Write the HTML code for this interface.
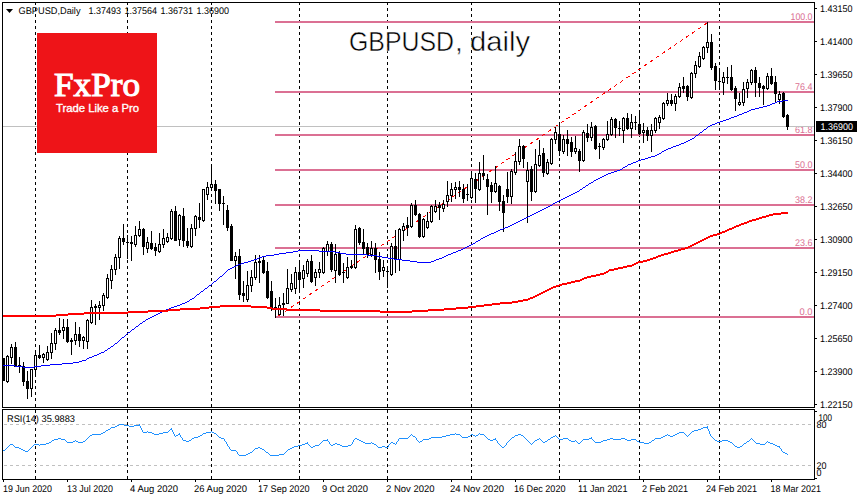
<!DOCTYPE html>
<html><head><meta charset="utf-8">
<style>
html,body{margin:0;padding:0;background:#fff;}
body{width:860px;height:500px;overflow:hidden;}
svg{display:block;}
text{font-family:"Liberation Sans",sans-serif;}
.ax{font-size:9.7px;fill:#000;stroke:none;text-rendering:geometricPrecision;}
.fl{font-size:9.7px;fill:#db7093;stroke:none;text-rendering:geometricPrecision;}
.fx{font-family:"Liberation Serif",serif;font-weight:normal;font-size:33px;fill:#fff;stroke:#fff;stroke-width:1.1px;}
.tl{font-size:11px;fill:#fff;stroke:#fff;stroke-width:0.35px;}
.tt{font-size:28px;fill:#000;stroke:#fff;stroke-width:0.5px;paint-order:normal;}
</style></head>
<body>
<svg width="860" height="500" viewBox="0 0 860 500" shape-rendering="crispEdges">
<path d="M35 3h1v2h-1zM35 8h1v3h-1zM35 14h1v3h-1zM35 20h1v3h-1zM35 26h1v3h-1zM35 32h1v3h-1zM35 38h1v3h-1zM35 44h1v3h-1zM35 50h1v3h-1zM35 56h1v3h-1zM35 62h1v3h-1zM35 68h1v3h-1zM35 74h1v3h-1zM35 80h1v3h-1zM35 86h1v3h-1zM35 92h1v3h-1zM35 98h1v3h-1zM35 104h1v3h-1zM35 110h1v3h-1zM35 116h1v3h-1zM35 122h1v3h-1zM35 128h1v3h-1zM35 134h1v3h-1zM35 140h1v3h-1zM35 146h1v3h-1zM35 152h1v3h-1zM35 158h1v3h-1zM35 164h1v3h-1zM35 170h1v3h-1zM35 176h1v3h-1zM35 182h1v3h-1zM35 188h1v3h-1zM35 194h1v3h-1zM35 200h1v3h-1zM35 206h1v3h-1zM35 212h1v3h-1zM35 218h1v3h-1zM35 224h1v3h-1zM35 230h1v3h-1zM35 236h1v3h-1zM35 242h1v3h-1zM35 248h1v3h-1zM35 254h1v3h-1zM35 260h1v3h-1zM35 266h1v3h-1zM35 272h1v3h-1zM35 278h1v3h-1zM35 284h1v3h-1zM35 290h1v3h-1zM35 296h1v3h-1zM35 302h1v3h-1zM35 308h1v3h-1zM35 314h1v3h-1zM35 320h1v3h-1zM35 326h1v3h-1zM35 332h1v3h-1zM35 338h1v3h-1zM35 344h1v3h-1zM35 350h1v3h-1zM35 356h1v3h-1zM35 362h1v3h-1zM35 368h1v3h-1zM35 374h1v3h-1zM35 380h1v3h-1zM35 386h1v3h-1zM35 392h1v3h-1zM35 398h1v3h-1zM35 404h1v3h-1zM35 410h1v3h-1zM35 416h1v3h-1zM35 422h1v3h-1zM35 428h1v3h-1zM35 434h1v3h-1zM35 440h1v3h-1zM35 446h1v3h-1zM35 452h1v3h-1zM35 458h1v3h-1zM35 464h1v3h-1zM35 470h1v3h-1zM35 476h1v3h-1zM127 3h1v2h-1zM127 8h1v3h-1zM127 14h1v3h-1zM127 20h1v3h-1zM127 26h1v3h-1zM127 32h1v3h-1zM127 38h1v3h-1zM127 44h1v3h-1zM127 50h1v3h-1zM127 56h1v3h-1zM127 62h1v3h-1zM127 68h1v3h-1zM127 74h1v3h-1zM127 80h1v3h-1zM127 86h1v3h-1zM127 92h1v3h-1zM127 98h1v3h-1zM127 104h1v3h-1zM127 110h1v3h-1zM127 116h1v3h-1zM127 122h1v3h-1zM127 128h1v3h-1zM127 134h1v3h-1zM127 140h1v3h-1zM127 146h1v3h-1zM127 152h1v3h-1zM127 158h1v3h-1zM127 164h1v3h-1zM127 170h1v3h-1zM127 176h1v3h-1zM127 182h1v3h-1zM127 188h1v3h-1zM127 194h1v3h-1zM127 200h1v3h-1zM127 206h1v3h-1zM127 212h1v3h-1zM127 218h1v3h-1zM127 224h1v3h-1zM127 230h1v3h-1zM127 236h1v3h-1zM127 242h1v3h-1zM127 248h1v3h-1zM127 254h1v3h-1zM127 260h1v3h-1zM127 266h1v3h-1zM127 272h1v3h-1zM127 278h1v3h-1zM127 284h1v3h-1zM127 290h1v3h-1zM127 296h1v3h-1zM127 302h1v3h-1zM127 308h1v3h-1zM127 314h1v3h-1zM127 320h1v3h-1zM127 326h1v3h-1zM127 332h1v3h-1zM127 338h1v3h-1zM127 344h1v3h-1zM127 350h1v3h-1zM127 356h1v3h-1zM127 362h1v3h-1zM127 368h1v3h-1zM127 374h1v3h-1zM127 380h1v3h-1zM127 386h1v3h-1zM127 392h1v3h-1zM127 398h1v3h-1zM127 404h1v3h-1zM127 410h1v3h-1zM127 416h1v3h-1zM127 422h1v3h-1zM127 428h1v3h-1zM127 434h1v3h-1zM127 440h1v3h-1zM127 446h1v3h-1zM127 452h1v3h-1zM127 458h1v3h-1zM127 464h1v3h-1zM127 470h1v3h-1zM127 476h1v3h-1zM211 3h1v2h-1zM211 8h1v3h-1zM211 14h1v3h-1zM211 20h1v3h-1zM211 26h1v3h-1zM211 32h1v3h-1zM211 38h1v3h-1zM211 44h1v3h-1zM211 50h1v3h-1zM211 56h1v3h-1zM211 62h1v3h-1zM211 68h1v3h-1zM211 74h1v3h-1zM211 80h1v3h-1zM211 86h1v3h-1zM211 92h1v3h-1zM211 98h1v3h-1zM211 104h1v3h-1zM211 110h1v3h-1zM211 116h1v3h-1zM211 122h1v3h-1zM211 128h1v3h-1zM211 134h1v3h-1zM211 140h1v3h-1zM211 146h1v3h-1zM211 152h1v3h-1zM211 158h1v3h-1zM211 164h1v3h-1zM211 170h1v3h-1zM211 176h1v3h-1zM211 182h1v3h-1zM211 188h1v3h-1zM211 194h1v3h-1zM211 200h1v3h-1zM211 206h1v3h-1zM211 212h1v3h-1zM211 218h1v3h-1zM211 224h1v3h-1zM211 230h1v3h-1zM211 236h1v3h-1zM211 242h1v3h-1zM211 248h1v3h-1zM211 254h1v3h-1zM211 260h1v3h-1zM211 266h1v3h-1zM211 272h1v3h-1zM211 278h1v3h-1zM211 284h1v3h-1zM211 290h1v3h-1zM211 296h1v3h-1zM211 302h1v3h-1zM211 308h1v3h-1zM211 314h1v3h-1zM211 320h1v3h-1zM211 326h1v3h-1zM211 332h1v3h-1zM211 338h1v3h-1zM211 344h1v3h-1zM211 350h1v3h-1zM211 356h1v3h-1zM211 362h1v3h-1zM211 368h1v3h-1zM211 374h1v3h-1zM211 380h1v3h-1zM211 386h1v3h-1zM211 392h1v3h-1zM211 398h1v3h-1zM211 404h1v3h-1zM211 410h1v3h-1zM211 416h1v3h-1zM211 422h1v3h-1zM211 428h1v3h-1zM211 434h1v3h-1zM211 440h1v3h-1zM211 446h1v3h-1zM211 452h1v3h-1zM211 458h1v3h-1zM211 464h1v3h-1zM211 470h1v3h-1zM211 476h1v3h-1zM299 3h1v2h-1zM299 8h1v3h-1zM299 14h1v3h-1zM299 20h1v3h-1zM299 26h1v3h-1zM299 32h1v3h-1zM299 38h1v3h-1zM299 44h1v3h-1zM299 50h1v3h-1zM299 56h1v3h-1zM299 62h1v3h-1zM299 68h1v3h-1zM299 74h1v3h-1zM299 80h1v3h-1zM299 86h1v3h-1zM299 92h1v3h-1zM299 98h1v3h-1zM299 104h1v3h-1zM299 110h1v3h-1zM299 116h1v3h-1zM299 122h1v3h-1zM299 128h1v3h-1zM299 134h1v3h-1zM299 140h1v3h-1zM299 146h1v3h-1zM299 152h1v3h-1zM299 158h1v3h-1zM299 164h1v3h-1zM299 170h1v3h-1zM299 176h1v3h-1zM299 182h1v3h-1zM299 188h1v3h-1zM299 194h1v3h-1zM299 200h1v3h-1zM299 206h1v3h-1zM299 212h1v3h-1zM299 218h1v3h-1zM299 224h1v3h-1zM299 230h1v3h-1zM299 236h1v3h-1zM299 242h1v3h-1zM299 248h1v3h-1zM299 254h1v3h-1zM299 260h1v3h-1zM299 266h1v3h-1zM299 272h1v3h-1zM299 278h1v3h-1zM299 284h1v3h-1zM299 290h1v3h-1zM299 296h1v3h-1zM299 302h1v3h-1zM299 308h1v3h-1zM299 314h1v3h-1zM299 320h1v3h-1zM299 326h1v3h-1zM299 332h1v3h-1zM299 338h1v3h-1zM299 344h1v3h-1zM299 350h1v3h-1zM299 356h1v3h-1zM299 362h1v3h-1zM299 368h1v3h-1zM299 374h1v3h-1zM299 380h1v3h-1zM299 386h1v3h-1zM299 392h1v3h-1zM299 398h1v3h-1zM299 404h1v3h-1zM299 410h1v3h-1zM299 416h1v3h-1zM299 422h1v3h-1zM299 428h1v3h-1zM299 434h1v3h-1zM299 440h1v3h-1zM299 446h1v3h-1zM299 452h1v3h-1zM299 458h1v3h-1zM299 464h1v3h-1zM299 470h1v3h-1zM299 476h1v3h-1zM387 3h1v2h-1zM387 8h1v3h-1zM387 14h1v3h-1zM387 20h1v3h-1zM387 26h1v3h-1zM387 32h1v3h-1zM387 38h1v3h-1zM387 44h1v3h-1zM387 50h1v3h-1zM387 56h1v3h-1zM387 62h1v3h-1zM387 68h1v3h-1zM387 74h1v3h-1zM387 80h1v3h-1zM387 86h1v3h-1zM387 92h1v3h-1zM387 98h1v3h-1zM387 104h1v3h-1zM387 110h1v3h-1zM387 116h1v3h-1zM387 122h1v3h-1zM387 128h1v3h-1zM387 134h1v3h-1zM387 140h1v3h-1zM387 146h1v3h-1zM387 152h1v3h-1zM387 158h1v3h-1zM387 164h1v3h-1zM387 170h1v3h-1zM387 176h1v3h-1zM387 182h1v3h-1zM387 188h1v3h-1zM387 194h1v3h-1zM387 200h1v3h-1zM387 206h1v3h-1zM387 212h1v3h-1zM387 218h1v3h-1zM387 224h1v3h-1zM387 230h1v3h-1zM387 236h1v3h-1zM387 242h1v3h-1zM387 248h1v3h-1zM387 254h1v3h-1zM387 260h1v3h-1zM387 266h1v3h-1zM387 272h1v3h-1zM387 278h1v3h-1zM387 284h1v3h-1zM387 290h1v3h-1zM387 296h1v3h-1zM387 302h1v3h-1zM387 308h1v3h-1zM387 314h1v3h-1zM387 320h1v3h-1zM387 326h1v3h-1zM387 332h1v3h-1zM387 338h1v3h-1zM387 344h1v3h-1zM387 350h1v3h-1zM387 356h1v3h-1zM387 362h1v3h-1zM387 368h1v3h-1zM387 374h1v3h-1zM387 380h1v3h-1zM387 386h1v3h-1zM387 392h1v3h-1zM387 398h1v3h-1zM387 404h1v3h-1zM387 410h1v3h-1zM387 416h1v3h-1zM387 422h1v3h-1zM387 428h1v3h-1zM387 434h1v3h-1zM387 440h1v3h-1zM387 446h1v3h-1zM387 452h1v3h-1zM387 458h1v3h-1zM387 464h1v3h-1zM387 470h1v3h-1zM387 476h1v3h-1zM471 3h1v2h-1zM471 8h1v3h-1zM471 14h1v3h-1zM471 20h1v3h-1zM471 26h1v3h-1zM471 32h1v3h-1zM471 38h1v3h-1zM471 44h1v3h-1zM471 50h1v3h-1zM471 56h1v3h-1zM471 62h1v3h-1zM471 68h1v3h-1zM471 74h1v3h-1zM471 80h1v3h-1zM471 86h1v3h-1zM471 92h1v3h-1zM471 98h1v3h-1zM471 104h1v3h-1zM471 110h1v3h-1zM471 116h1v3h-1zM471 122h1v3h-1zM471 128h1v3h-1zM471 134h1v3h-1zM471 140h1v3h-1zM471 146h1v3h-1zM471 152h1v3h-1zM471 158h1v3h-1zM471 164h1v3h-1zM471 170h1v3h-1zM471 176h1v3h-1zM471 182h1v3h-1zM471 188h1v3h-1zM471 194h1v3h-1zM471 200h1v3h-1zM471 206h1v3h-1zM471 212h1v3h-1zM471 218h1v3h-1zM471 224h1v3h-1zM471 230h1v3h-1zM471 236h1v3h-1zM471 242h1v3h-1zM471 248h1v3h-1zM471 254h1v3h-1zM471 260h1v3h-1zM471 266h1v3h-1zM471 272h1v3h-1zM471 278h1v3h-1zM471 284h1v3h-1zM471 290h1v3h-1zM471 296h1v3h-1zM471 302h1v3h-1zM471 308h1v3h-1zM471 314h1v3h-1zM471 320h1v3h-1zM471 326h1v3h-1zM471 332h1v3h-1zM471 338h1v3h-1zM471 344h1v3h-1zM471 350h1v3h-1zM471 356h1v3h-1zM471 362h1v3h-1zM471 368h1v3h-1zM471 374h1v3h-1zM471 380h1v3h-1zM471 386h1v3h-1zM471 392h1v3h-1zM471 398h1v3h-1zM471 404h1v3h-1zM471 410h1v3h-1zM471 416h1v3h-1zM471 422h1v3h-1zM471 428h1v3h-1zM471 434h1v3h-1zM471 440h1v3h-1zM471 446h1v3h-1zM471 452h1v3h-1zM471 458h1v3h-1zM471 464h1v3h-1zM471 470h1v3h-1zM471 476h1v3h-1zM559 3h1v2h-1zM559 8h1v3h-1zM559 14h1v3h-1zM559 20h1v3h-1zM559 26h1v3h-1zM559 32h1v3h-1zM559 38h1v3h-1zM559 44h1v3h-1zM559 50h1v3h-1zM559 56h1v3h-1zM559 62h1v3h-1zM559 68h1v3h-1zM559 74h1v3h-1zM559 80h1v3h-1zM559 86h1v3h-1zM559 92h1v3h-1zM559 98h1v3h-1zM559 104h1v3h-1zM559 110h1v3h-1zM559 116h1v3h-1zM559 122h1v3h-1zM559 128h1v3h-1zM559 134h1v3h-1zM559 140h1v3h-1zM559 146h1v3h-1zM559 152h1v3h-1zM559 158h1v3h-1zM559 164h1v3h-1zM559 170h1v3h-1zM559 176h1v3h-1zM559 182h1v3h-1zM559 188h1v3h-1zM559 194h1v3h-1zM559 200h1v3h-1zM559 206h1v3h-1zM559 212h1v3h-1zM559 218h1v3h-1zM559 224h1v3h-1zM559 230h1v3h-1zM559 236h1v3h-1zM559 242h1v3h-1zM559 248h1v3h-1zM559 254h1v3h-1zM559 260h1v3h-1zM559 266h1v3h-1zM559 272h1v3h-1zM559 278h1v3h-1zM559 284h1v3h-1zM559 290h1v3h-1zM559 296h1v3h-1zM559 302h1v3h-1zM559 308h1v3h-1zM559 314h1v3h-1zM559 320h1v3h-1zM559 326h1v3h-1zM559 332h1v3h-1zM559 338h1v3h-1zM559 344h1v3h-1zM559 350h1v3h-1zM559 356h1v3h-1zM559 362h1v3h-1zM559 368h1v3h-1zM559 374h1v3h-1zM559 380h1v3h-1zM559 386h1v3h-1zM559 392h1v3h-1zM559 398h1v3h-1zM559 404h1v3h-1zM559 410h1v3h-1zM559 416h1v3h-1zM559 422h1v3h-1zM559 428h1v3h-1zM559 434h1v3h-1zM559 440h1v3h-1zM559 446h1v3h-1zM559 452h1v3h-1zM559 458h1v3h-1zM559 464h1v3h-1zM559 470h1v3h-1zM559 476h1v3h-1zM639 3h1v2h-1zM639 8h1v3h-1zM639 14h1v3h-1zM639 20h1v3h-1zM639 26h1v3h-1zM639 32h1v3h-1zM639 38h1v3h-1zM639 44h1v3h-1zM639 50h1v3h-1zM639 56h1v3h-1zM639 62h1v3h-1zM639 68h1v3h-1zM639 74h1v3h-1zM639 80h1v3h-1zM639 86h1v3h-1zM639 92h1v3h-1zM639 98h1v3h-1zM639 104h1v3h-1zM639 110h1v3h-1zM639 116h1v3h-1zM639 122h1v3h-1zM639 128h1v3h-1zM639 134h1v3h-1zM639 140h1v3h-1zM639 146h1v3h-1zM639 152h1v3h-1zM639 158h1v3h-1zM639 164h1v3h-1zM639 170h1v3h-1zM639 176h1v3h-1zM639 182h1v3h-1zM639 188h1v3h-1zM639 194h1v3h-1zM639 200h1v3h-1zM639 206h1v3h-1zM639 212h1v3h-1zM639 218h1v3h-1zM639 224h1v3h-1zM639 230h1v3h-1zM639 236h1v3h-1zM639 242h1v3h-1zM639 248h1v3h-1zM639 254h1v3h-1zM639 260h1v3h-1zM639 266h1v3h-1zM639 272h1v3h-1zM639 278h1v3h-1zM639 284h1v3h-1zM639 290h1v3h-1zM639 296h1v3h-1zM639 302h1v3h-1zM639 308h1v3h-1zM639 314h1v3h-1zM639 320h1v3h-1zM639 326h1v3h-1zM639 332h1v3h-1zM639 338h1v3h-1zM639 344h1v3h-1zM639 350h1v3h-1zM639 356h1v3h-1zM639 362h1v3h-1zM639 368h1v3h-1zM639 374h1v3h-1zM639 380h1v3h-1zM639 386h1v3h-1zM639 392h1v3h-1zM639 398h1v3h-1zM639 404h1v3h-1zM639 410h1v3h-1zM639 416h1v3h-1zM639 422h1v3h-1zM639 428h1v3h-1zM639 434h1v3h-1zM639 440h1v3h-1zM639 446h1v3h-1zM639 452h1v3h-1zM639 458h1v3h-1zM639 464h1v3h-1zM639 470h1v3h-1zM639 476h1v3h-1zM719 3h1v2h-1zM719 8h1v3h-1zM719 14h1v3h-1zM719 20h1v3h-1zM719 26h1v3h-1zM719 32h1v3h-1zM719 38h1v3h-1zM719 44h1v3h-1zM719 50h1v3h-1zM719 56h1v3h-1zM719 62h1v3h-1zM719 68h1v3h-1zM719 74h1v3h-1zM719 80h1v3h-1zM719 86h1v3h-1zM719 92h1v3h-1zM719 98h1v3h-1zM719 104h1v3h-1zM719 110h1v3h-1zM719 116h1v3h-1zM719 122h1v3h-1zM719 128h1v3h-1zM719 134h1v3h-1zM719 140h1v3h-1zM719 146h1v3h-1zM719 152h1v3h-1zM719 158h1v3h-1zM719 164h1v3h-1zM719 170h1v3h-1zM719 176h1v3h-1zM719 182h1v3h-1zM719 188h1v3h-1zM719 194h1v3h-1zM719 200h1v3h-1zM719 206h1v3h-1zM719 212h1v3h-1zM719 218h1v3h-1zM719 224h1v3h-1zM719 230h1v3h-1zM719 236h1v3h-1zM719 242h1v3h-1zM719 248h1v3h-1zM719 254h1v3h-1zM719 260h1v3h-1zM719 266h1v3h-1zM719 272h1v3h-1zM719 278h1v3h-1zM719 284h1v3h-1zM719 290h1v3h-1zM719 296h1v3h-1zM719 302h1v3h-1zM719 308h1v3h-1zM719 314h1v3h-1zM719 320h1v3h-1zM719 326h1v3h-1zM719 332h1v3h-1zM719 338h1v3h-1zM719 344h1v3h-1zM719 350h1v3h-1zM719 356h1v3h-1zM719 362h1v3h-1zM719 368h1v3h-1zM719 374h1v3h-1zM719 380h1v3h-1zM719 386h1v3h-1zM719 392h1v3h-1zM719 398h1v3h-1zM719 404h1v3h-1zM719 410h1v3h-1zM719 416h1v3h-1zM719 422h1v3h-1zM719 428h1v3h-1zM719 434h1v3h-1zM719 440h1v3h-1zM719 446h1v3h-1zM719 452h1v3h-1zM719 458h1v3h-1zM719 464h1v3h-1zM719 470h1v3h-1zM719 476h1v3h-1z" fill="#000"/>
<path d="M4 424h3v1h-3zM10 424h3v1h-3zM16 424h3v1h-3zM22 424h3v1h-3zM28 424h3v1h-3zM34 424h3v1h-3zM40 424h3v1h-3zM46 424h3v1h-3zM52 424h3v1h-3zM58 424h3v1h-3zM64 424h3v1h-3zM70 424h3v1h-3zM76 424h3v1h-3zM82 424h3v1h-3zM88 424h3v1h-3zM94 424h3v1h-3zM100 424h3v1h-3zM106 424h3v1h-3zM112 424h3v1h-3zM118 424h3v1h-3zM124 424h3v1h-3zM130 424h3v1h-3zM136 424h3v1h-3zM142 424h3v1h-3zM148 424h3v1h-3zM154 424h3v1h-3zM160 424h3v1h-3zM166 424h3v1h-3zM172 424h3v1h-3zM178 424h3v1h-3zM184 424h3v1h-3zM190 424h3v1h-3zM196 424h3v1h-3zM202 424h3v1h-3zM208 424h3v1h-3zM214 424h3v1h-3zM220 424h3v1h-3zM226 424h3v1h-3zM232 424h3v1h-3zM238 424h3v1h-3zM244 424h3v1h-3zM250 424h3v1h-3zM256 424h3v1h-3zM262 424h3v1h-3zM268 424h3v1h-3zM274 424h3v1h-3zM280 424h3v1h-3zM286 424h3v1h-3zM292 424h3v1h-3zM298 424h3v1h-3zM304 424h3v1h-3zM310 424h3v1h-3zM316 424h3v1h-3zM322 424h3v1h-3zM328 424h3v1h-3zM334 424h3v1h-3zM340 424h3v1h-3zM346 424h3v1h-3zM352 424h3v1h-3zM358 424h3v1h-3zM364 424h3v1h-3zM370 424h3v1h-3zM376 424h3v1h-3zM382 424h3v1h-3zM388 424h3v1h-3zM394 424h3v1h-3zM400 424h3v1h-3zM406 424h3v1h-3zM412 424h3v1h-3zM418 424h3v1h-3zM424 424h3v1h-3zM430 424h3v1h-3zM436 424h3v1h-3zM442 424h3v1h-3zM448 424h3v1h-3zM454 424h3v1h-3zM460 424h3v1h-3zM466 424h3v1h-3zM472 424h3v1h-3zM478 424h3v1h-3zM484 424h3v1h-3zM490 424h3v1h-3zM496 424h3v1h-3zM502 424h3v1h-3zM508 424h3v1h-3zM514 424h3v1h-3zM520 424h3v1h-3zM526 424h3v1h-3zM532 424h3v1h-3zM538 424h3v1h-3zM544 424h3v1h-3zM550 424h3v1h-3zM556 424h3v1h-3zM562 424h3v1h-3zM568 424h3v1h-3zM574 424h3v1h-3zM580 424h3v1h-3zM586 424h3v1h-3zM592 424h3v1h-3zM598 424h3v1h-3zM604 424h3v1h-3zM610 424h3v1h-3zM616 424h3v1h-3zM622 424h3v1h-3zM628 424h3v1h-3zM634 424h3v1h-3zM640 424h3v1h-3zM646 424h3v1h-3zM652 424h3v1h-3zM658 424h3v1h-3zM664 424h3v1h-3zM670 424h3v1h-3zM676 424h3v1h-3zM682 424h3v1h-3zM688 424h3v1h-3zM694 424h3v1h-3zM700 424h3v1h-3zM706 424h3v1h-3zM712 424h3v1h-3zM718 424h3v1h-3zM724 424h3v1h-3zM730 424h3v1h-3zM736 424h3v1h-3zM742 424h3v1h-3zM748 424h3v1h-3zM754 424h3v1h-3zM760 424h3v1h-3zM766 424h3v1h-3zM772 424h3v1h-3zM778 424h3v1h-3zM784 424h3v1h-3zM790 424h3v1h-3zM796 424h3v1h-3zM802 424h3v1h-3zM808 424h3v1h-3zM4 465h3v1h-3zM10 465h3v1h-3zM16 465h3v1h-3zM22 465h3v1h-3zM28 465h3v1h-3zM34 465h3v1h-3zM40 465h3v1h-3zM46 465h3v1h-3zM52 465h3v1h-3zM58 465h3v1h-3zM64 465h3v1h-3zM70 465h3v1h-3zM76 465h3v1h-3zM82 465h3v1h-3zM88 465h3v1h-3zM94 465h3v1h-3zM100 465h3v1h-3zM106 465h3v1h-3zM112 465h3v1h-3zM118 465h3v1h-3zM124 465h3v1h-3zM130 465h3v1h-3zM136 465h3v1h-3zM142 465h3v1h-3zM148 465h3v1h-3zM154 465h3v1h-3zM160 465h3v1h-3zM166 465h3v1h-3zM172 465h3v1h-3zM178 465h3v1h-3zM184 465h3v1h-3zM190 465h3v1h-3zM196 465h3v1h-3zM202 465h3v1h-3zM208 465h3v1h-3zM214 465h3v1h-3zM220 465h3v1h-3zM226 465h3v1h-3zM232 465h3v1h-3zM238 465h3v1h-3zM244 465h3v1h-3zM250 465h3v1h-3zM256 465h3v1h-3zM262 465h3v1h-3zM268 465h3v1h-3zM274 465h3v1h-3zM280 465h3v1h-3zM286 465h3v1h-3zM292 465h3v1h-3zM298 465h3v1h-3zM304 465h3v1h-3zM310 465h3v1h-3zM316 465h3v1h-3zM322 465h3v1h-3zM328 465h3v1h-3zM334 465h3v1h-3zM340 465h3v1h-3zM346 465h3v1h-3zM352 465h3v1h-3zM358 465h3v1h-3zM364 465h3v1h-3zM370 465h3v1h-3zM376 465h3v1h-3zM382 465h3v1h-3zM388 465h3v1h-3zM394 465h3v1h-3zM400 465h3v1h-3zM406 465h3v1h-3zM412 465h3v1h-3zM418 465h3v1h-3zM424 465h3v1h-3zM430 465h3v1h-3zM436 465h3v1h-3zM442 465h3v1h-3zM448 465h3v1h-3zM454 465h3v1h-3zM460 465h3v1h-3zM466 465h3v1h-3zM472 465h3v1h-3zM478 465h3v1h-3zM484 465h3v1h-3zM490 465h3v1h-3zM496 465h3v1h-3zM502 465h3v1h-3zM508 465h3v1h-3zM514 465h3v1h-3zM520 465h3v1h-3zM526 465h3v1h-3zM532 465h3v1h-3zM538 465h3v1h-3zM544 465h3v1h-3zM550 465h3v1h-3zM556 465h3v1h-3zM562 465h3v1h-3zM568 465h3v1h-3zM574 465h3v1h-3zM580 465h3v1h-3zM586 465h3v1h-3zM592 465h3v1h-3zM598 465h3v1h-3zM604 465h3v1h-3zM610 465h3v1h-3zM616 465h3v1h-3zM622 465h3v1h-3zM628 465h3v1h-3zM634 465h3v1h-3zM640 465h3v1h-3zM646 465h3v1h-3zM652 465h3v1h-3zM658 465h3v1h-3zM664 465h3v1h-3zM670 465h3v1h-3zM676 465h3v1h-3zM682 465h3v1h-3zM688 465h3v1h-3zM694 465h3v1h-3zM700 465h3v1h-3zM706 465h3v1h-3zM712 465h3v1h-3zM718 465h3v1h-3zM724 465h3v1h-3zM730 465h3v1h-3zM736 465h3v1h-3zM742 465h3v1h-3zM748 465h3v1h-3zM754 465h3v1h-3zM760 465h3v1h-3zM766 465h3v1h-3zM772 465h3v1h-3zM778 465h3v1h-3zM784 465h3v1h-3zM790 465h3v1h-3zM796 465h3v1h-3zM802 465h3v1h-3zM808 465h3v1h-3z" fill="#c0c0c0"/>
<path d="M275 21H814v2H275zM275 91H814v2H275zM275 134H814v2H275zM275 169H814v2H275zM275 204H814v2H275zM275 247H814v2H275zM275 316H814v2H275z" fill="#db7093"/>
<text x="790.5" y="20" class="fl" textLength="22" lengthAdjust="spacingAndGlyphs">100.0</text>
<text x="795.0" y="90" class="fl" textLength="17.5" lengthAdjust="spacingAndGlyphs">76.4</text>
<text x="795.0" y="133" class="fl" textLength="17.5" lengthAdjust="spacingAndGlyphs">61.8</text>
<text x="795.0" y="168" class="fl" textLength="17.5" lengthAdjust="spacingAndGlyphs">50.0</text>
<text x="795.0" y="203" class="fl" textLength="17.5" lengthAdjust="spacingAndGlyphs">38.2</text>
<text x="795.0" y="246" class="fl" textLength="17.5" lengthAdjust="spacingAndGlyphs">23.6</text>
<text x="799.5" y="315" class="fl" textLength="13" lengthAdjust="spacingAndGlyphs">0.0</text>
<line x1="275.5" y1="318" x2="707.5" y2="22.7" stroke="#ff0000" stroke-width="1" stroke-dasharray="3.63 3.63" stroke-dashoffset="3.4" shape-rendering="crispEdges"/>
<path d="M3 126H814v1H3z" fill="#c0c0c0"/>
<path d="M3 358h1V381h-1zM2 358h3V381h-3zM7 355h1V383h-1zM6 356h3V382h-3zM11 344h1V364h-1zM10 347h3V358h-3zM15 342h1V367h-1zM14 347h3V367h-3zM19 357h1V373h-1zM18 365h3V366h-3zM23 362h1V386h-1zM22 366h3V382h-3zM27 371h1V399h-1zM26 381h3V389h-3zM31 369h1V397h-1zM30 369h3V389h-3zM35 350h1V377h-1zM34 355h3V370h-3zM39 345h1V359h-1zM38 355h3V358h-3zM43 353h1V363h-1zM42 354h3V358h-3zM47 346h1V361h-1zM46 352h3V360h-3zM51 333h1V359h-1zM50 343h3V353h-3zM55 328h1V350h-1zM54 330h3V344h-3zM59 318h1V335h-1zM58 330h3V333h-3zM63 319h1V339h-1zM62 327h3V331h-3zM67 319h1V343h-1zM66 327h3V342h-3zM71 338h1V355h-1zM70 340h3V342h-3zM75 322h1V345h-1zM74 334h3V341h-3zM79 327h1V347h-1zM78 334h3V341h-3zM83 336h1V349h-1zM82 337h3V341h-3zM87 319h1V349h-1zM86 320h3V342h-3zM91 300h1V324h-1zM90 307h3V323h-3zM95 304h1V325h-1zM94 306h3V308h-3zM99 301h1V320h-1zM98 305h3V308h-3zM103 293h1V311h-1zM102 295h3V306h-3zM107 274h1V299h-1zM106 278h3V298h-3zM111 265h1V289h-1zM110 269h3V281h-3zM115 254h1V275h-1zM114 257h3V270h-3zM119 236h1V269h-1zM118 238h3V258h-3zM123 224h1V245h-1zM122 238h3V242h-3zM127 235h1V259h-1zM126 242h3V243h-3zM131 236h1V261h-1zM130 242h3V244h-3zM135 226h1V247h-1zM134 235h3V245h-3zM139 221h1V237h-1zM138 229h3V236h-3zM143 228h1V255h-1zM142 229h3V247h-3zM147 237h1V253h-1zM146 242h3V249h-3zM151 231h1V250h-1zM150 243h3V249h-3zM155 243h1V256h-1zM154 247h3V251h-3zM159 233h1V253h-1zM158 244h3V252h-3zM163 229h1V248h-1zM162 238h3V245h-3zM167 233h1V243h-1zM166 237h3V242h-3zM171 209h1V240h-1zM170 211h3V239h-3zM175 206h1V241h-1zM174 211h3V241h-3zM179 214h1V246h-1zM178 215h3V240h-3zM183 208h1V247h-1zM182 216h3V241h-3zM187 228h1V248h-1zM186 241h3V246h-3zM191 224h1V248h-1zM190 228h3V247h-3zM195 215h1V236h-1zM194 216h3V229h-3zM199 203h1V228h-1zM198 217h3V220h-3zM203 189h1V222h-1zM202 189h3V221h-3zM207 182h1V200h-1zM206 187h3V195h-3zM211 164h1V191h-1zM210 184h3V188h-3zM215 180h1V204h-1zM214 184h3V191h-3zM219 189h1V211h-1zM218 189h3V204h-3zM223 196h1V225h-1zM222 203h3V204h-3zM227 205h1V231h-1zM226 210h3V228h-3zM231 224h1V261h-1zM230 226h3V261h-3zM235 252h1V279h-1zM234 256h3V261h-3zM239 249h1V300h-1zM238 256h3V295h-3zM243 281h1V302h-1zM242 293h3V296h-3zM247 271h1V302h-1zM246 285h3V300h-3zM251 270h1V292h-1zM250 277h3V286h-3zM255 255h1V280h-1zM254 262h3V278h-3zM259 255h1V283h-1zM258 261h3V263h-3zM263 257h1V274h-1zM262 260h3V273h-3zM267 262h1V299h-1zM266 271h3V298h-3zM271 281h1V311h-1zM270 291h3V308h-3zM275 298h1V318h-1zM274 307h3V308h-3zM279 297h1V315h-1zM278 305h3V315h-3zM283 293h1V316h-1zM282 303h3V305h-3zM287 269h1V304h-1zM286 288h3V304h-3zM291 274h1V292h-1zM290 283h3V290h-3zM295 267h1V294h-1zM294 272h3V289h-3zM299 261h1V293h-1zM298 272h3V280h-3zM303 265h1V288h-1zM302 270h3V279h-3zM307 259h1V277h-1zM306 261h3V274h-3zM311 255h1V283h-1zM310 261h3V282h-3zM315 269h1V286h-1zM314 272h3V278h-3zM319 262h1V278h-1zM318 269h3V273h-3zM323 247h1V274h-1zM322 248h3V273h-3zM327 241h1V256h-1zM326 244h3V252h-3zM331 242h1V272h-1zM330 244h3V270h-3zM335 244h1V283h-1zM334 254h3V271h-3zM339 251h1V276h-1zM338 253h3V275h-3zM343 263h1V283h-1zM342 272h3V273h-3zM347 257h1V279h-1zM346 267h3V278h-3zM351 260h1V269h-1zM350 266h3V268h-3zM355 225h1V269h-1zM354 229h3V268h-3zM359 227h1V245h-1zM358 228h3V243h-3zM363 229h1V255h-1zM362 242h3V249h-3zM367 243h1V258h-1zM366 247h3V255h-3zM371 241h1V257h-1zM370 248h3V255h-3zM375 243h1V273h-1zM374 248h3V260h-3zM379 252h1V280h-1zM378 259h3V272h-3zM383 260h1V277h-1zM382 267h3V271h-3zM387 266h1V288h-1zM386 271h3V272h-3zM391 243h1V276h-1zM390 246h3V275h-3zM395 230h1V273h-1zM394 246h3V260h-3zM399 228h1V271h-1zM398 229h3V260h-3zM403 223h1V241h-1zM402 226h3V231h-3zM407 217h1V236h-1zM406 225h3V228h-3zM411 203h1V228h-1zM410 205h3V227h-3zM415 200h1V216h-1zM414 205h3V215h-3zM419 213h1V238h-1zM418 214h3V237h-3zM423 218h1V238h-1zM422 219h3V237h-3zM427 212h1V229h-1zM426 221h3V228h-3zM431 205h1V223h-1zM430 206h3V222h-3zM435 200h1V213h-1zM434 206h3V212h-3zM439 202h1V220h-1zM438 205h3V208h-3zM443 200h1V212h-1zM442 204h3V209h-3zM447 181h1V207h-1zM446 195h3V202h-3zM451 183h1V202h-1zM450 189h3V196h-3zM455 182h1V199h-1zM454 187h3V190h-3zM459 181h1V197h-1zM458 187h3V190h-3zM463 184h1V203h-1zM462 189h3V199h-3zM467 184h1V201h-1zM466 194h3V195h-3zM471 171h1V199h-1zM470 178h3V198h-3zM475 173h1V203h-1zM474 179h3V189h-3zM479 162h1V191h-1zM478 173h3V190h-3zM483 155h1V180h-1zM482 173h3V176h-3zM487 174h1V215h-1zM486 179h3V187h-3zM491 182h1V203h-1zM490 185h3V192h-3zM495 166h1V193h-1zM494 183h3V192h-3zM499 185h1V211h-1zM498 186h3V202h-3zM503 195h1V232h-1zM502 201h3V213h-3zM507 172h1V203h-1zM506 189h3V197h-3zM511 169h1V204h-1zM510 171h3V197h-3zM515 152h1V175h-1zM514 161h3V173h-3zM519 139h1V165h-1zM518 146h3V162h-3zM523 145h1V168h-1zM522 146h3V159h-3zM527 162h1V223h-1zM526 170h3V182h-3zM531 166h1V201h-1zM530 169h3V192h-3zM535 149h1V193h-1zM534 164h3V192h-3zM539 140h1V167h-1zM538 155h3V166h-3zM543 148h1V177h-1zM542 153h3V173h-3zM547 159h1V175h-1zM546 162h3V174h-3zM551 138h1V165h-1zM550 139h3V164h-3zM555 127h1V144h-1zM554 132h3V140h-3zM559 122h1V156h-1zM558 134h3V151h-3zM563 135h1V154h-1zM562 139h3V152h-3zM567 130h1V156h-1zM566 139h3V144h-3zM571 137h1V157h-1zM570 142h3V152h-3zM575 136h1V154h-1zM574 148h3V152h-3zM579 149h1V172h-1zM578 151h3V161h-3zM583 130h1V162h-1zM582 132h3V161h-3zM587 124h1V142h-1zM586 133h3V138h-3zM591 122h1V141h-1zM590 127h3V138h-3zM595 125h1V150h-1zM594 126h3V149h-3zM599 143h1V159h-1zM598 146h3V147h-3zM603 138h1V150h-1zM602 139h3V148h-3zM607 121h1V141h-1zM606 134h3V140h-3zM611 117h1V136h-1zM610 119h3V135h-3zM615 118h1V138h-1zM614 119h3V128h-3zM619 121h1V136h-1zM618 128h3V129h-3zM623 117h1V143h-1zM622 118h3V131h-3zM627 113h1V130h-1zM626 118h3V129h-3zM631 114h1V138h-1zM630 122h3V129h-3zM635 116h1V130h-1zM634 122h3V123h-3zM639 110h1V135h-1zM638 124h3V134h-3zM643 123h1V143h-1zM642 130h3V133h-3zM647 127h1V141h-1zM646 130h3V136h-3zM651 124h1V152h-1zM650 130h3V136h-3zM655 117h1V133h-1zM654 118h3V131h-3zM659 115h1V129h-1zM658 117h3V123h-3zM663 102h1V120h-1zM662 103h3V119h-3zM667 93h1V106h-1zM666 100h3V104h-3zM671 94h1V106h-1zM670 100h3V104h-3zM675 94h1V111h-1zM674 96h3V104h-3zM679 83h1V98h-1zM678 87h3V97h-3zM683 77h1V93h-1zM682 86h3V89h-3zM687 85h1V101h-1zM686 86h3V97h-3zM691 72h1V99h-1zM690 73h3V98h-3zM695 61h1V78h-1zM694 65h3V74h-3zM699 52h1V68h-1zM698 56h3V67h-3zM703 46h1V60h-1zM702 47h3V59h-3zM707 22h1V53h-1zM706 42h3V48h-3zM711 34h1V70h-1zM710 42h3V68h-3zM715 63h1V90h-1zM714 66h3V81h-3zM719 68h1V90h-1zM718 81h3V82h-3zM723 72h1V95h-1zM722 77h3V83h-3zM727 67h1V84h-1zM726 77h3V78h-3zM731 65h1V91h-1zM730 77h3V90h-3zM735 86h1V111h-1zM734 88h3V99h-3zM739 93h1V106h-1zM738 102h3V105h-3zM743 82h1V106h-1zM742 89h3V103h-3zM747 79h1V98h-1zM746 82h3V89h-3zM751 69h1V85h-1zM750 70h3V83h-3zM755 67h1V97h-1zM754 70h3V83h-3zM759 77h1V97h-1zM758 83h3V88h-3zM763 85h1V105h-1zM762 86h3V89h-3zM767 73h1V90h-1zM766 76h3V89h-3zM771 68h1V85h-1zM770 76h3V84h-3zM775 76h1V102h-1zM774 82h3V94h-3zM779 91h1V104h-1zM778 94h3V100h-3zM783 92h1V118h-1zM782 93h3V117h-3zM787 114h1V130h-1zM786 115h3V127h-3z" fill="#000"/>
<path d="M7 357h1V381h-1zM11 348h1V357h-1zM31 370h1V388h-1zM35 356h1V369h-1zM43 355h1V357h-1zM47 353h1V359h-1zM51 344h1V352h-1zM55 331h1V343h-1zM63 328h1V330h-1zM75 335h1V340h-1zM83 338h1V340h-1zM87 321h1V341h-1zM91 308h1V322h-1zM99 306h1V307h-1zM103 296h1V305h-1zM107 279h1V297h-1zM111 270h1V280h-1zM115 258h1V269h-1zM119 239h1V257h-1zM135 236h1V244h-1zM139 230h1V235h-1zM147 243h1V248h-1zM159 245h1V251h-1zM163 239h1V244h-1zM167 238h1V241h-1zM171 212h1V238h-1zM179 216h1V239h-1zM191 229h1V246h-1zM195 217h1V228h-1zM203 190h1V220h-1zM207 188h1V194h-1zM211 185h1V187h-1zM235 257h1V260h-1zM247 286h1V299h-1zM251 278h1V285h-1zM255 263h1V277h-1zM279 306h1V314h-1zM287 289h1V303h-1zM291 284h1V289h-1zM295 273h1V288h-1zM303 271h1V278h-1zM307 262h1V273h-1zM315 273h1V277h-1zM319 270h1V272h-1zM323 249h1V272h-1zM327 245h1V251h-1zM335 255h1V270h-1zM347 268h1V277h-1zM355 230h1V267h-1zM371 249h1V254h-1zM383 268h1V270h-1zM391 247h1V274h-1zM399 230h1V259h-1zM403 227h1V230h-1zM411 206h1V226h-1zM423 220h1V236h-1zM427 222h1V227h-1zM431 207h1V221h-1zM435 207h1V211h-1zM443 205h1V208h-1zM447 196h1V201h-1zM451 190h1V195h-1zM455 188h1V189h-1zM471 179h1V197h-1zM479 174h1V189h-1zM495 184h1V191h-1zM511 172h1V196h-1zM515 162h1V172h-1zM519 147h1V161h-1zM527 171h1V181h-1zM535 165h1V191h-1zM539 156h1V165h-1zM547 163h1V173h-1zM551 140h1V163h-1zM555 133h1V139h-1zM563 140h1V151h-1zM575 149h1V151h-1zM583 133h1V160h-1zM591 128h1V137h-1zM603 140h1V147h-1zM607 135h1V139h-1zM611 120h1V134h-1zM623 119h1V130h-1zM631 123h1V128h-1zM643 131h1V132h-1zM651 131h1V135h-1zM655 119h1V130h-1zM659 118h1V122h-1zM663 104h1V118h-1zM667 101h1V103h-1zM675 97h1V103h-1zM679 88h1V96h-1zM691 74h1V97h-1zM695 66h1V73h-1zM699 57h1V66h-1zM703 48h1V58h-1zM707 43h1V47h-1zM723 78h1V82h-1zM739 103h1V104h-1zM743 90h1V102h-1zM747 83h1V88h-1zM751 71h1V82h-1zM767 77h1V88h-1zM779 95h1V99h-1z" fill="#fff"/>
<path d="M3 365h1v1h-1zM4 365h1v1h-1zM5 365h1v1h-1zM6 365h1v1h-1zM7 365h1v1h-1zM8 365h1v1h-1zM9 365h1v1h-1zM10 365h1v1h-1zM11 365h1v1h-1zM12 365h1v1h-1zM13 365h1v1h-1zM14 365h1v1h-1zM15 366h1v1h-1zM16 366h1v1h-1zM17 366h1v1h-1zM18 366h1v1h-1zM19 366h1v1h-1zM20 366h1v1h-1zM21 366h1v1h-1zM22 366h1v1h-1zM23 367h1v1h-1zM24 367h1v1h-1zM25 367h1v1h-1zM26 367h1v1h-1zM27 367h1v1h-1zM28 367h1v1h-1zM29 367h1v1h-1zM30 367h1v1h-1zM31 367h1v1h-1zM32 367h1v1h-1zM33 367h1v1h-1zM34 366h1v1h-1zM35 366h1v1h-1zM36 366h1v1h-1zM37 366h1v1h-1zM38 366h1v1h-1zM39 366h1v1h-1zM40 366h1v1h-1zM41 365h1v1h-1zM42 365h1v1h-1zM43 365h1v1h-1zM44 365h1v1h-1zM45 365h1v1h-1zM46 365h1v1h-1zM47 365h1v1h-1zM48 365h1v1h-1zM49 365h1v1h-1zM50 364h1v1h-1zM51 364h1v1h-1zM52 364h1v1h-1zM53 364h1v1h-1zM54 364h1v1h-1zM55 364h1v1h-1zM56 364h1v1h-1zM57 364h1v1h-1zM58 364h1v1h-1zM59 364h1v1h-1zM60 364h1v1h-1zM61 364h1v1h-1zM62 363h1v1h-1zM63 363h1v1h-1zM64 363h1v1h-1zM65 363h1v1h-1zM66 363h1v1h-1zM67 363h1v1h-1zM68 363h1v1h-1zM69 363h1v1h-1zM70 363h1v1h-1zM71 363h1v1h-1zM72 363h1v1h-1zM73 362h1v1h-1zM74 362h1v1h-1zM75 362h1v1h-1zM76 362h1v1h-1zM77 362h1v1h-1zM78 362h1v1h-1zM79 361h1v1h-1zM80 361h1v1h-1zM81 361h1v1h-1zM82 360h1v1h-1zM83 360h1v1h-1zM84 360h1v1h-1zM85 360h1v1h-1zM86 359h1v1h-1zM87 358h1v1h-1zM88 358h1v1h-1zM89 357h1v1h-1zM90 357h1v1h-1zM91 357h1v1h-1zM92 356h1v1h-1zM93 356h1v1h-1zM94 355h1v1h-1zM95 355h1v1h-1zM96 355h1v1h-1zM97 354h1v1h-1zM98 354h1v1h-1zM99 353h1v1h-1zM100 353h1v1h-1zM101 352h1v1h-1zM102 352h1v1h-1zM103 352h1v1h-1zM104 351h1v1h-1zM105 350h1v1h-1zM106 350h1v1h-1zM107 349h1v1h-1zM108 348h1v1h-1zM109 348h1v1h-1zM110 347h1v1h-1zM111 346h1v1h-1zM112 346h1v1h-1zM113 345h1v1h-1zM114 344h1v1h-1zM115 343h1v1h-1zM116 343h1v1h-1zM117 342h1v1h-1zM118 341h1v1h-1zM119 340h1v1h-1zM120 339h1v1h-1zM121 338h1v1h-1zM122 337h1v1h-1zM123 337h1v1h-1zM124 336h1v1h-1zM125 335h1v1h-1zM126 334h1v1h-1zM127 333h1v1h-1zM128 332h1v1h-1zM129 332h1v1h-1zM130 331h1v1h-1zM131 330h1v1h-1zM132 329h1v1h-1zM133 329h1v1h-1zM134 328h1v1h-1zM135 327h1v1h-1zM136 326h1v1h-1zM137 326h1v1h-1zM138 325h1v1h-1zM139 324h1v1h-1zM140 323h1v1h-1zM141 323h1v1h-1zM142 322h1v1h-1zM143 321h1v1h-1zM144 321h1v1h-1zM145 320h1v1h-1zM146 319h1v1h-1zM147 319h1v1h-1zM148 318h1v1h-1zM149 318h1v1h-1zM150 317h1v1h-1zM151 317h1v1h-1zM152 316h1v1h-1zM153 316h1v1h-1zM154 315h1v1h-1zM155 315h1v1h-1zM156 314h1v1h-1zM157 314h1v1h-1zM158 313h1v1h-1zM159 313h1v1h-1zM160 312h1v1h-1zM161 312h1v1h-1zM162 311h1v1h-1zM163 311h1v1h-1zM164 310h1v1h-1zM165 310h1v1h-1zM166 309h1v1h-1zM167 309h1v1h-1zM168 309h1v1h-1zM169 308h1v1h-1zM170 308h1v1h-1zM171 307h1v1h-1zM172 307h1v1h-1zM173 307h1v1h-1zM174 306h1v1h-1zM175 306h1v1h-1zM176 306h1v1h-1zM177 305h1v1h-1zM178 305h1v1h-1zM179 305h1v1h-1zM180 304h1v1h-1zM181 304h1v1h-1zM182 303h1v1h-1zM183 303h1v1h-1zM184 303h1v1h-1zM185 302h1v1h-1zM186 302h1v1h-1zM187 301h1v1h-1zM188 301h1v1h-1zM189 300h1v1h-1zM190 299h1v1h-1zM191 299h1v1h-1zM192 298h1v1h-1zM193 298h1v1h-1zM194 297h1v1h-1zM195 296h1v1h-1zM196 295h1v1h-1zM197 294h1v1h-1zM198 294h1v1h-1zM199 293h1v1h-1zM200 292h1v1h-1zM201 291h1v1h-1zM202 291h1v1h-1zM203 290h1v1h-1zM204 289h1v1h-1zM205 288h1v1h-1zM206 288h1v1h-1zM207 287h1v1h-1zM208 286h1v1h-1zM209 285h1v1h-1zM210 285h1v1h-1zM211 284h1v1h-1zM212 283h1v1h-1zM213 282h1v1h-1zM214 281h1v1h-1zM215 281h1v1h-1zM216 280h1v1h-1zM217 279h1v1h-1zM218 278h1v1h-1zM219 277h1v1h-1zM220 276h1v1h-1zM221 276h1v1h-1zM222 275h1v1h-1zM223 274h1v1h-1zM224 273h1v1h-1zM225 272h1v1h-1zM226 271h1v1h-1zM227 270h1v1h-1zM228 269h1v1h-1zM229 269h1v1h-1zM230 268h1v1h-1zM231 268h1v1h-1zM232 267h1v1h-1zM233 267h1v1h-1zM234 266h1v1h-1zM235 266h1v1h-1zM236 265h1v1h-1zM237 265h1v1h-1zM238 264h1v1h-1zM239 264h1v1h-1zM240 264h1v1h-1zM241 263h1v1h-1zM242 263h1v1h-1zM243 263h1v1h-1zM244 262h1v1h-1zM245 262h1v1h-1zM246 262h1v1h-1zM247 262h1v1h-1zM248 261h1v1h-1zM249 261h1v1h-1zM250 261h1v1h-1zM251 260h1v1h-1zM252 260h1v1h-1zM253 260h1v1h-1zM254 259h1v1h-1zM255 259h1v1h-1zM256 259h1v1h-1zM257 258h1v1h-1zM258 258h1v1h-1zM259 257h1v1h-1zM260 257h1v1h-1zM261 257h1v1h-1zM262 256h1v1h-1zM263 256h1v1h-1zM264 256h1v1h-1zM265 256h1v1h-1zM266 255h1v1h-1zM267 255h1v1h-1zM268 255h1v1h-1zM269 255h1v1h-1zM270 255h1v1h-1zM271 255h1v1h-1zM272 255h1v1h-1zM273 255h1v1h-1zM274 254h1v1h-1zM275 254h1v1h-1zM276 254h1v1h-1zM277 254h1v1h-1zM278 254h1v1h-1zM279 253h1v1h-1zM280 253h1v1h-1zM281 253h1v1h-1zM282 253h1v1h-1zM283 253h1v1h-1zM284 253h1v1h-1zM285 253h1v1h-1zM286 252h1v1h-1zM287 252h1v1h-1zM288 252h1v1h-1zM289 252h1v1h-1zM290 252h1v1h-1zM291 252h1v1h-1zM292 252h1v1h-1zM293 251h1v1h-1zM294 251h1v1h-1zM295 251h1v1h-1zM296 251h1v1h-1zM297 251h1v1h-1zM298 250h1v1h-1zM299 250h1v1h-1zM300 250h1v1h-1zM301 250h1v1h-1zM302 250h1v1h-1zM303 250h1v1h-1zM304 250h1v1h-1zM305 250h1v1h-1zM306 250h1v1h-1zM307 250h1v1h-1zM308 250h1v1h-1zM309 250h1v1h-1zM310 250h1v1h-1zM311 250h1v1h-1zM312 250h1v1h-1zM313 250h1v1h-1zM314 250h1v1h-1zM315 250h1v1h-1zM316 250h1v1h-1zM317 250h1v1h-1zM318 250h1v1h-1zM319 251h1v1h-1zM320 251h1v1h-1zM321 251h1v1h-1zM322 251h1v1h-1zM323 251h1v1h-1zM324 251h1v1h-1zM325 251h1v1h-1zM326 251h1v1h-1zM327 251h1v1h-1zM328 251h1v1h-1zM329 251h1v1h-1zM330 251h1v1h-1zM331 251h1v1h-1zM332 251h1v1h-1zM333 251h1v1h-1zM334 251h1v1h-1zM335 252h1v1h-1zM336 252h1v1h-1zM337 252h1v1h-1zM338 252h1v1h-1zM339 252h1v1h-1zM340 253h1v1h-1zM341 253h1v1h-1zM342 253h1v1h-1zM343 253h1v1h-1zM344 253h1v1h-1zM345 253h1v1h-1zM346 254h1v1h-1zM347 254h1v1h-1zM348 254h1v1h-1zM349 254h1v1h-1zM350 254h1v1h-1zM351 254h1v1h-1zM352 254h1v1h-1zM353 254h1v1h-1zM354 254h1v1h-1zM355 254h1v1h-1zM356 254h1v1h-1zM357 254h1v1h-1zM358 254h1v1h-1zM359 254h1v1h-1zM360 254h1v1h-1zM361 254h1v1h-1zM362 254h1v1h-1zM363 254h1v1h-1zM364 254h1v1h-1zM365 254h1v1h-1zM366 254h1v1h-1zM367 255h1v1h-1zM368 255h1v1h-1zM369 255h1v1h-1zM370 255h1v1h-1zM371 255h1v1h-1zM372 255h1v1h-1zM373 255h1v1h-1zM374 255h1v1h-1zM375 255h1v1h-1zM376 255h1v1h-1zM377 256h1v1h-1zM378 256h1v1h-1zM379 256h1v1h-1zM380 256h1v1h-1zM381 256h1v1h-1zM382 257h1v1h-1zM383 257h1v1h-1zM384 257h1v1h-1zM385 257h1v1h-1zM386 257h1v1h-1zM387 257h1v1h-1zM388 258h1v1h-1zM389 258h1v1h-1zM390 258h1v1h-1zM391 258h1v1h-1zM392 258h1v1h-1zM393 258h1v1h-1zM394 259h1v1h-1zM395 259h1v1h-1zM396 259h1v1h-1zM397 259h1v1h-1zM398 259h1v1h-1zM399 259h1v1h-1zM400 259h1v1h-1zM401 259h1v1h-1zM402 260h1v1h-1zM403 260h1v1h-1zM404 260h1v1h-1zM405 260h1v1h-1zM406 260h1v1h-1zM407 260h1v1h-1zM408 260h1v1h-1zM409 260h1v1h-1zM410 261h1v1h-1zM411 261h1v1h-1zM412 261h1v1h-1zM413 261h1v1h-1zM414 261h1v1h-1zM415 261h1v1h-1zM416 261h1v1h-1zM417 262h1v1h-1zM418 262h1v1h-1zM419 262h1v1h-1zM420 262h1v1h-1zM421 262h1v1h-1zM422 262h1v1h-1zM423 262h1v1h-1zM424 262h1v1h-1zM425 262h1v1h-1zM426 262h1v1h-1zM427 262h1v1h-1zM428 262h1v1h-1zM429 262h1v1h-1zM430 262h1v1h-1zM431 261h1v1h-1zM432 261h1v1h-1zM433 261h1v1h-1zM434 260h1v1h-1zM435 260h1v1h-1zM436 259h1v1h-1zM437 259h1v1h-1zM438 259h1v1h-1zM439 258h1v1h-1zM440 258h1v1h-1zM441 258h1v1h-1zM442 257h1v1h-1zM443 257h1v1h-1zM444 256h1v1h-1zM445 256h1v1h-1zM446 255h1v1h-1zM447 255h1v1h-1zM448 254h1v1h-1zM449 254h1v1h-1zM450 254h1v1h-1zM451 253h1v1h-1zM452 253h1v1h-1zM453 252h1v1h-1zM454 252h1v1h-1zM455 252h1v1h-1zM456 251h1v1h-1zM457 251h1v1h-1zM458 250h1v1h-1zM459 250h1v1h-1zM460 250h1v1h-1zM461 249h1v1h-1zM462 249h1v1h-1zM463 248h1v1h-1zM464 248h1v1h-1zM465 247h1v1h-1zM466 247h1v1h-1zM467 246h1v1h-1zM468 246h1v1h-1zM469 245h1v1h-1zM470 245h1v1h-1zM471 244h1v1h-1zM472 244h1v1h-1zM473 243h1v1h-1zM474 243h1v1h-1zM475 242h1v1h-1zM476 241h1v1h-1zM477 241h1v1h-1zM478 240h1v1h-1zM479 240h1v1h-1zM480 239h1v1h-1zM481 238h1v1h-1zM482 238h1v1h-1zM483 237h1v1h-1zM484 237h1v1h-1zM485 236h1v1h-1zM486 236h1v1h-1zM487 235h1v1h-1zM488 235h1v1h-1zM489 234h1v1h-1zM490 234h1v1h-1zM491 233h1v1h-1zM492 233h1v1h-1zM493 233h1v1h-1zM494 232h1v1h-1zM495 232h1v1h-1zM496 231h1v1h-1zM497 231h1v1h-1zM498 230h1v1h-1zM499 230h1v1h-1zM500 229h1v1h-1zM501 229h1v1h-1zM502 229h1v1h-1zM503 228h1v1h-1zM504 228h1v1h-1zM505 227h1v1h-1zM506 227h1v1h-1zM507 227h1v1h-1zM508 226h1v1h-1zM509 226h1v1h-1zM510 225h1v1h-1zM511 225h1v1h-1zM512 224h1v1h-1zM513 224h1v1h-1zM514 223h1v1h-1zM515 223h1v1h-1zM516 222h1v1h-1zM517 222h1v1h-1zM518 221h1v1h-1zM519 221h1v1h-1zM520 220h1v1h-1zM521 220h1v1h-1zM522 219h1v1h-1zM523 219h1v1h-1zM524 218h1v1h-1zM525 218h1v1h-1zM526 217h1v1h-1zM527 217h1v1h-1zM528 216h1v1h-1zM529 216h1v1h-1zM530 215h1v1h-1zM531 215h1v1h-1zM532 214h1v1h-1zM533 214h1v1h-1zM534 213h1v1h-1zM535 213h1v1h-1zM536 212h1v1h-1zM537 212h1v1h-1zM538 211h1v1h-1zM539 211h1v1h-1zM540 210h1v1h-1zM541 210h1v1h-1zM542 209h1v1h-1zM543 209h1v1h-1zM544 208h1v1h-1zM545 208h1v1h-1zM546 207h1v1h-1zM547 207h1v1h-1zM548 206h1v1h-1zM549 206h1v1h-1zM550 205h1v1h-1zM551 205h1v1h-1zM552 204h1v1h-1zM553 203h1v1h-1zM554 203h1v1h-1zM555 202h1v1h-1zM556 202h1v1h-1zM557 201h1v1h-1zM558 201h1v1h-1zM559 200h1v1h-1zM560 200h1v1h-1zM561 199h1v1h-1zM562 199h1v1h-1zM563 198h1v1h-1zM564 198h1v1h-1zM565 197h1v1h-1zM566 197h1v1h-1zM567 196h1v1h-1zM568 196h1v1h-1zM569 195h1v1h-1zM570 195h1v1h-1zM571 194h1v1h-1zM572 194h1v1h-1zM573 193h1v1h-1zM574 193h1v1h-1zM575 192h1v1h-1zM576 192h1v1h-1zM577 191h1v1h-1zM578 191h1v1h-1zM579 190h1v1h-1zM580 189h1v1h-1zM581 189h1v1h-1zM582 188h1v1h-1zM583 187h1v1h-1zM584 187h1v1h-1zM585 186h1v1h-1zM586 185h1v1h-1zM587 185h1v1h-1zM588 184h1v1h-1zM589 183h1v1h-1zM590 183h1v1h-1zM591 182h1v1h-1zM592 182h1v1h-1zM593 181h1v1h-1zM594 180h1v1h-1zM595 180h1v1h-1zM596 179h1v1h-1zM597 179h1v1h-1zM598 178h1v1h-1zM599 178h1v1h-1zM600 177h1v1h-1zM601 177h1v1h-1zM602 176h1v1h-1zM603 176h1v1h-1zM604 175h1v1h-1zM605 175h1v1h-1zM606 174h1v1h-1zM607 174h1v1h-1zM608 173h1v1h-1zM609 173h1v1h-1zM610 173h1v1h-1zM611 172h1v1h-1zM612 172h1v1h-1zM613 172h1v1h-1zM614 171h1v1h-1zM615 171h1v1h-1zM616 171h1v1h-1zM617 170h1v1h-1zM618 170h1v1h-1zM619 170h1v1h-1zM620 169h1v1h-1zM621 169h1v1h-1zM622 168h1v1h-1zM623 167h1v1h-1zM624 167h1v1h-1zM625 166h1v1h-1zM626 166h1v1h-1zM627 165h1v1h-1zM628 164h1v1h-1zM629 164h1v1h-1zM630 164h1v1h-1zM631 163h1v1h-1zM632 163h1v1h-1zM633 162h1v1h-1zM634 162h1v1h-1zM635 162h1v1h-1zM636 161h1v1h-1zM637 161h1v1h-1zM638 160h1v1h-1zM639 160h1v1h-1zM640 160h1v1h-1zM641 159h1v1h-1zM642 159h1v1h-1zM643 159h1v1h-1zM644 159h1v1h-1zM645 158h1v1h-1zM646 158h1v1h-1zM647 158h1v1h-1zM648 157h1v1h-1zM649 157h1v1h-1zM650 157h1v1h-1zM651 156h1v1h-1zM652 156h1v1h-1zM653 156h1v1h-1zM654 156h1v1h-1zM655 155h1v1h-1zM656 155h1v1h-1zM657 154h1v1h-1zM658 154h1v1h-1zM659 153h1v1h-1zM660 153h1v1h-1zM661 152h1v1h-1zM662 151h1v1h-1zM663 151h1v1h-1zM664 150h1v1h-1zM665 150h1v1h-1zM666 149h1v1h-1zM667 149h1v1h-1zM668 148h1v1h-1zM669 148h1v1h-1zM670 148h1v1h-1zM671 147h1v1h-1zM672 147h1v1h-1zM673 146h1v1h-1zM674 146h1v1h-1zM675 146h1v1h-1zM676 145h1v1h-1zM677 145h1v1h-1zM678 145h1v1h-1zM679 144h1v1h-1zM680 144h1v1h-1zM681 143h1v1h-1zM682 143h1v1h-1zM683 143h1v1h-1zM684 142h1v1h-1zM685 142h1v1h-1zM686 141h1v1h-1zM687 141h1v1h-1zM688 140h1v1h-1zM689 140h1v1h-1zM690 139h1v1h-1zM691 139h1v1h-1zM692 138h1v1h-1zM693 138h1v1h-1zM694 137h1v1h-1zM695 136h1v1h-1zM696 135h1v1h-1zM697 135h1v1h-1zM698 134h1v1h-1zM699 133h1v1h-1zM700 132h1v1h-1zM701 132h1v1h-1zM702 131h1v1h-1zM703 130h1v1h-1zM704 129h1v1h-1zM705 129h1v1h-1zM706 128h1v1h-1zM707 127h1v1h-1zM708 126h1v1h-1zM709 126h1v1h-1zM710 125h1v1h-1zM711 125h1v1h-1zM712 124h1v1h-1zM713 124h1v1h-1zM714 124h1v1h-1zM715 123h1v1h-1zM716 123h1v1h-1zM717 122h1v1h-1zM718 122h1v1h-1zM719 122h1v1h-1zM720 121h1v1h-1zM721 121h1v1h-1zM722 121h1v1h-1zM723 120h1v1h-1zM724 120h1v1h-1zM725 120h1v1h-1zM726 119h1v1h-1zM727 119h1v1h-1zM728 119h1v1h-1zM729 118h1v1h-1zM730 118h1v1h-1zM731 117h1v1h-1zM732 117h1v1h-1zM733 117h1v1h-1zM734 116h1v1h-1zM735 116h1v1h-1zM736 116h1v1h-1zM737 115h1v1h-1zM738 115h1v1h-1zM739 114h1v1h-1zM740 114h1v1h-1zM741 114h1v1h-1zM742 113h1v1h-1zM743 113h1v1h-1zM744 112h1v1h-1zM745 112h1v1h-1zM746 112h1v1h-1zM747 111h1v1h-1zM748 111h1v1h-1zM749 110h1v1h-1zM750 110h1v1h-1zM751 109h1v1h-1zM752 109h1v1h-1zM753 109h1v1h-1zM754 109h1v1h-1zM755 108h1v1h-1zM756 108h1v1h-1zM757 108h1v1h-1zM758 108h1v1h-1zM759 107h1v1h-1zM760 107h1v1h-1zM761 107h1v1h-1zM762 107h1v1h-1zM763 106h1v1h-1zM764 106h1v1h-1zM765 106h1v1h-1zM766 106h1v1h-1zM767 105h1v1h-1zM768 105h1v1h-1zM769 105h1v1h-1zM770 104h1v1h-1zM771 104h1v1h-1zM772 103h1v1h-1zM773 103h1v1h-1zM774 103h1v1h-1zM775 102h1v1h-1zM776 102h1v1h-1zM777 101h1v1h-1zM778 101h1v1h-1zM779 101h1v1h-1zM780 101h1v1h-1zM781 101h1v1h-1zM782 101h1v1h-1zM783 100h1v1h-1zM784 100h1v1h-1zM785 100h1v1h-1zM786 100h1v1h-1zM787 100h1v1h-1z" fill="#0000ff"/>
<path d="M3 315h1v2h-1zM4 315h1v2h-1zM5 315h1v2h-1zM6 315h1v2h-1zM7 315h1v2h-1zM8 315h1v2h-1zM9 315h1v2h-1zM10 315h1v2h-1zM11 315h1v2h-1zM12 315h1v2h-1zM13 315h1v2h-1zM14 315h1v2h-1zM15 315h1v2h-1zM16 315h1v2h-1zM17 315h1v2h-1zM18 315h1v2h-1zM19 315h1v2h-1zM20 315h1v2h-1zM21 315h1v2h-1zM22 315h1v2h-1zM23 315h1v2h-1zM24 315h1v2h-1zM25 315h1v2h-1zM26 315h1v2h-1zM27 315h1v2h-1zM28 315h1v2h-1zM29 315h1v2h-1zM30 315h1v2h-1zM31 315h1v2h-1zM32 315h1v2h-1zM33 315h1v2h-1zM34 315h1v2h-1zM35 315h1v2h-1zM36 315h1v2h-1zM37 315h1v2h-1zM38 315h1v2h-1zM39 315h1v2h-1zM40 315h1v2h-1zM41 315h1v2h-1zM42 315h1v2h-1zM43 315h1v2h-1zM44 315h1v2h-1zM45 315h1v2h-1zM46 315h1v2h-1zM47 315h1v2h-1zM48 315h1v2h-1zM49 315h1v2h-1zM50 315h1v2h-1zM51 315h1v2h-1zM52 315h1v2h-1zM53 315h1v2h-1zM54 315h1v2h-1zM55 315h1v2h-1zM56 314h1v2h-1zM57 314h1v2h-1zM58 314h1v2h-1zM59 314h1v2h-1zM60 314h1v2h-1zM61 314h1v2h-1zM62 314h1v2h-1zM63 314h1v2h-1zM64 314h1v2h-1zM65 314h1v2h-1zM66 314h1v2h-1zM67 314h1v2h-1zM68 313h1v2h-1zM69 313h1v2h-1zM70 313h1v2h-1zM71 313h1v2h-1zM72 313h1v2h-1zM73 313h1v2h-1zM74 313h1v2h-1zM75 313h1v2h-1zM76 313h1v2h-1zM77 313h1v2h-1zM78 313h1v2h-1zM79 313h1v2h-1zM80 313h1v2h-1zM81 313h1v2h-1zM82 313h1v2h-1zM83 313h1v2h-1zM84 312h1v2h-1zM85 312h1v2h-1zM86 312h1v2h-1zM87 312h1v2h-1zM88 312h1v2h-1zM89 312h1v2h-1zM90 312h1v2h-1zM91 312h1v2h-1zM92 312h1v2h-1zM93 312h1v2h-1zM94 312h1v2h-1zM95 312h1v2h-1zM96 312h1v2h-1zM97 312h1v2h-1zM98 312h1v2h-1zM99 312h1v2h-1zM100 312h1v2h-1zM101 312h1v2h-1zM102 312h1v2h-1zM103 312h1v2h-1zM104 312h1v2h-1zM105 312h1v2h-1zM106 312h1v2h-1zM107 312h1v2h-1zM108 312h1v2h-1zM109 312h1v2h-1zM110 312h1v2h-1zM111 312h1v2h-1zM112 312h1v2h-1zM113 312h1v2h-1zM114 312h1v2h-1zM115 312h1v2h-1zM116 312h1v2h-1zM117 312h1v2h-1zM118 312h1v2h-1zM119 312h1v2h-1zM120 312h1v2h-1zM121 312h1v2h-1zM122 312h1v2h-1zM123 312h1v2h-1zM124 312h1v2h-1zM125 312h1v2h-1zM126 312h1v2h-1zM127 312h1v2h-1zM128 311h1v2h-1zM129 311h1v2h-1zM130 311h1v2h-1zM131 311h1v2h-1zM132 311h1v2h-1zM133 311h1v2h-1zM134 311h1v2h-1zM135 311h1v2h-1zM136 311h1v2h-1zM137 311h1v2h-1zM138 311h1v2h-1zM139 311h1v2h-1zM140 311h1v2h-1zM141 311h1v2h-1zM142 311h1v2h-1zM143 311h1v2h-1zM144 311h1v2h-1zM145 311h1v2h-1zM146 311h1v2h-1zM147 311h1v2h-1zM148 310h1v2h-1zM149 310h1v2h-1zM150 310h1v2h-1zM151 310h1v2h-1zM152 310h1v2h-1zM153 310h1v2h-1zM154 310h1v2h-1zM155 310h1v2h-1zM156 310h1v2h-1zM157 310h1v2h-1zM158 310h1v2h-1zM159 310h1v2h-1zM160 310h1v2h-1zM161 310h1v2h-1zM162 310h1v2h-1zM163 310h1v2h-1zM164 310h1v2h-1zM165 310h1v2h-1zM166 310h1v2h-1zM167 310h1v2h-1zM168 309h1v2h-1zM169 309h1v2h-1zM170 309h1v2h-1zM171 309h1v2h-1zM172 309h1v2h-1zM173 309h1v2h-1zM174 309h1v2h-1zM175 309h1v2h-1zM176 309h1v2h-1zM177 309h1v2h-1zM178 309h1v2h-1zM179 309h1v2h-1zM180 308h1v2h-1zM181 308h1v2h-1zM182 308h1v2h-1zM183 308h1v2h-1zM184 308h1v2h-1zM185 308h1v2h-1zM186 308h1v2h-1zM187 308h1v2h-1zM188 308h1v2h-1zM189 308h1v2h-1zM190 308h1v2h-1zM191 308h1v2h-1zM192 308h1v2h-1zM193 308h1v2h-1zM194 308h1v2h-1zM195 308h1v2h-1zM196 308h1v2h-1zM197 308h1v2h-1zM198 308h1v2h-1zM199 308h1v2h-1zM200 307h1v2h-1zM201 307h1v2h-1zM202 307h1v2h-1zM203 307h1v2h-1zM204 307h1v2h-1zM205 307h1v2h-1zM206 307h1v2h-1zM207 307h1v2h-1zM208 307h1v2h-1zM209 306h1v2h-1zM210 306h1v2h-1zM211 306h1v2h-1zM212 306h1v2h-1zM213 306h1v2h-1zM214 306h1v2h-1zM215 306h1v2h-1zM216 306h1v2h-1zM217 306h1v2h-1zM218 306h1v2h-1zM219 306h1v2h-1zM220 305h1v2h-1zM221 305h1v2h-1zM222 305h1v2h-1zM223 305h1v2h-1zM224 305h1v2h-1zM225 305h1v2h-1zM226 305h1v2h-1zM227 305h1v2h-1zM228 305h1v2h-1zM229 305h1v2h-1zM230 305h1v2h-1zM231 305h1v2h-1zM232 305h1v2h-1zM233 305h1v2h-1zM234 305h1v2h-1zM235 305h1v2h-1zM236 305h1v2h-1zM237 305h1v2h-1zM238 305h1v2h-1zM239 305h1v2h-1zM240 305h1v2h-1zM241 305h1v2h-1zM242 305h1v2h-1zM243 305h1v2h-1zM244 305h1v2h-1zM245 305h1v2h-1zM246 305h1v2h-1zM247 305h1v2h-1zM248 305h1v2h-1zM249 305h1v2h-1zM250 305h1v2h-1zM251 306h1v2h-1zM252 306h1v2h-1zM253 306h1v2h-1zM254 306h1v2h-1zM255 306h1v2h-1zM256 306h1v2h-1zM257 306h1v2h-1zM258 306h1v2h-1zM259 306h1v2h-1zM260 306h1v2h-1zM261 306h1v2h-1zM262 306h1v2h-1zM263 306h1v2h-1zM264 306h1v2h-1zM265 306h1v2h-1zM266 306h1v2h-1zM267 307h1v2h-1zM268 307h1v2h-1zM269 307h1v2h-1zM270 307h1v2h-1zM271 307h1v2h-1zM272 308h1v2h-1zM273 308h1v2h-1zM274 308h1v2h-1zM275 308h1v2h-1zM276 308h1v2h-1zM277 308h1v2h-1zM278 308h1v2h-1zM279 308h1v2h-1zM280 308h1v2h-1zM281 308h1v2h-1zM282 308h1v2h-1zM283 308h1v2h-1zM284 308h1v2h-1zM285 308h1v2h-1zM286 308h1v2h-1zM287 309h1v2h-1zM288 309h1v2h-1zM289 309h1v2h-1zM290 309h1v2h-1zM291 309h1v2h-1zM292 309h1v2h-1zM293 309h1v2h-1zM294 309h1v2h-1zM295 309h1v2h-1zM296 309h1v2h-1zM297 309h1v2h-1zM298 309h1v2h-1zM299 309h1v2h-1zM300 309h1v2h-1zM301 309h1v2h-1zM302 309h1v2h-1zM303 309h1v2h-1zM304 309h1v2h-1zM305 309h1v2h-1zM306 309h1v2h-1zM307 309h1v2h-1zM308 309h1v2h-1zM309 309h1v2h-1zM310 309h1v2h-1zM311 309h1v2h-1zM312 309h1v2h-1zM313 309h1v2h-1zM314 309h1v2h-1zM315 309h1v2h-1zM316 309h1v2h-1zM317 309h1v2h-1zM318 309h1v2h-1zM319 309h1v2h-1zM320 310h1v2h-1zM321 310h1v2h-1zM322 310h1v2h-1zM323 310h1v2h-1zM324 310h1v2h-1zM325 310h1v2h-1zM326 310h1v2h-1zM327 310h1v2h-1zM328 310h1v2h-1zM329 310h1v2h-1zM330 310h1v2h-1zM331 310h1v2h-1zM332 310h1v2h-1zM333 310h1v2h-1zM334 310h1v2h-1zM335 310h1v2h-1zM336 310h1v2h-1zM337 310h1v2h-1zM338 310h1v2h-1zM339 310h1v2h-1zM340 310h1v2h-1zM341 310h1v2h-1zM342 310h1v2h-1zM343 310h1v2h-1zM344 310h1v2h-1zM345 310h1v2h-1zM346 310h1v2h-1zM347 310h1v2h-1zM348 310h1v2h-1zM349 310h1v2h-1zM350 310h1v2h-1zM351 310h1v2h-1zM352 310h1v2h-1zM353 310h1v2h-1zM354 310h1v2h-1zM355 310h1v2h-1zM356 310h1v2h-1zM357 310h1v2h-1zM358 310h1v2h-1zM359 310h1v2h-1zM360 310h1v2h-1zM361 310h1v2h-1zM362 310h1v2h-1zM363 310h1v2h-1zM364 310h1v2h-1zM365 310h1v2h-1zM366 310h1v2h-1zM367 310h1v2h-1zM368 310h1v2h-1zM369 310h1v2h-1zM370 310h1v2h-1zM371 310h1v2h-1zM372 310h1v2h-1zM373 310h1v2h-1zM374 310h1v2h-1zM375 310h1v2h-1zM376 310h1v2h-1zM377 310h1v2h-1zM378 310h1v2h-1zM379 310h1v2h-1zM380 311h1v2h-1zM381 311h1v2h-1zM382 311h1v2h-1zM383 311h1v2h-1zM384 311h1v2h-1zM385 311h1v2h-1zM386 311h1v2h-1zM387 311h1v2h-1zM388 311h1v2h-1zM389 311h1v2h-1zM390 311h1v2h-1zM391 311h1v2h-1zM392 311h1v2h-1zM393 311h1v2h-1zM394 311h1v2h-1zM395 311h1v2h-1zM396 311h1v2h-1zM397 311h1v2h-1zM398 311h1v2h-1zM399 311h1v2h-1zM400 311h1v2h-1zM401 311h1v2h-1zM402 311h1v2h-1zM403 311h1v2h-1zM404 311h1v2h-1zM405 311h1v2h-1zM406 311h1v2h-1zM407 311h1v2h-1zM408 311h1v2h-1zM409 311h1v2h-1zM410 311h1v2h-1zM411 311h1v2h-1zM412 310h1v2h-1zM413 310h1v2h-1zM414 310h1v2h-1zM415 310h1v2h-1zM416 310h1v2h-1zM417 310h1v2h-1zM418 310h1v2h-1zM419 310h1v2h-1zM420 310h1v2h-1zM421 310h1v2h-1zM422 310h1v2h-1zM423 310h1v2h-1zM424 310h1v2h-1zM425 310h1v2h-1zM426 310h1v2h-1zM427 310h1v2h-1zM428 309h1v2h-1zM429 309h1v2h-1zM430 309h1v2h-1zM431 309h1v2h-1zM432 309h1v2h-1zM433 309h1v2h-1zM434 309h1v2h-1zM435 309h1v2h-1zM436 309h1v2h-1zM437 309h1v2h-1zM438 309h1v2h-1zM439 309h1v2h-1zM440 309h1v2h-1zM441 309h1v2h-1zM442 309h1v2h-1zM443 309h1v2h-1zM444 308h1v2h-1zM445 308h1v2h-1zM446 308h1v2h-1zM447 308h1v2h-1zM448 308h1v2h-1zM449 308h1v2h-1zM450 308h1v2h-1zM451 308h1v2h-1zM452 308h1v2h-1zM453 308h1v2h-1zM454 308h1v2h-1zM455 308h1v2h-1zM456 307h1v2h-1zM457 307h1v2h-1zM458 307h1v2h-1zM459 307h1v2h-1zM460 307h1v2h-1zM461 307h1v2h-1zM462 307h1v2h-1zM463 307h1v2h-1zM464 307h1v2h-1zM465 307h1v2h-1zM466 307h1v2h-1zM467 307h1v2h-1zM468 306h1v2h-1zM469 306h1v2h-1zM470 306h1v2h-1zM471 306h1v2h-1zM472 306h1v2h-1zM473 306h1v2h-1zM474 306h1v2h-1zM475 306h1v2h-1zM476 305h1v2h-1zM477 305h1v2h-1zM478 305h1v2h-1zM479 305h1v2h-1zM480 305h1v2h-1zM481 305h1v2h-1zM482 305h1v2h-1zM483 305h1v2h-1zM484 304h1v2h-1zM485 304h1v2h-1zM486 304h1v2h-1zM487 304h1v2h-1zM488 304h1v2h-1zM489 304h1v2h-1zM490 304h1v2h-1zM491 304h1v2h-1zM492 303h1v2h-1zM493 303h1v2h-1zM494 303h1v2h-1zM495 303h1v2h-1zM496 303h1v2h-1zM497 303h1v2h-1zM498 303h1v2h-1zM499 303h1v2h-1zM500 302h1v2h-1zM501 302h1v2h-1zM502 302h1v2h-1zM503 302h1v2h-1zM504 302h1v2h-1zM505 302h1v2h-1zM506 302h1v2h-1zM507 302h1v2h-1zM508 302h1v2h-1zM509 302h1v2h-1zM510 302h1v2h-1zM511 302h1v2h-1zM512 301h1v2h-1zM513 301h1v2h-1zM514 301h1v2h-1zM515 301h1v2h-1zM516 301h1v2h-1zM517 301h1v2h-1zM518 300h1v2h-1zM519 300h1v2h-1zM520 300h1v2h-1zM521 300h1v2h-1zM522 300h1v2h-1zM523 299h1v2h-1zM524 299h1v2h-1zM525 299h1v2h-1zM526 299h1v2h-1zM527 299h1v2h-1zM528 298h1v2h-1zM529 298h1v2h-1zM530 297h1v2h-1zM531 297h1v2h-1zM532 297h1v2h-1zM533 296h1v2h-1zM534 296h1v2h-1zM535 295h1v2h-1zM536 295h1v2h-1zM537 294h1v2h-1zM538 294h1v2h-1zM539 293h1v2h-1zM540 293h1v2h-1zM541 292h1v2h-1zM542 292h1v2h-1zM543 291h1v2h-1zM544 291h1v2h-1zM545 290h1v2h-1zM546 290h1v2h-1zM547 289h1v2h-1zM548 289h1v2h-1zM549 288h1v2h-1zM550 288h1v2h-1zM551 287h1v2h-1zM552 287h1v2h-1zM553 286h1v2h-1zM554 286h1v2h-1zM555 286h1v2h-1zM556 285h1v2h-1zM557 285h1v2h-1zM558 285h1v2h-1zM559 284h1v2h-1zM560 284h1v2h-1zM561 284h1v2h-1zM562 283h1v2h-1zM563 283h1v2h-1zM564 283h1v2h-1zM565 283h1v2h-1zM566 283h1v2h-1zM567 282h1v2h-1zM568 282h1v2h-1zM569 282h1v2h-1zM570 282h1v2h-1zM571 281h1v2h-1zM572 281h1v2h-1zM573 281h1v2h-1zM574 281h1v2h-1zM575 280h1v2h-1zM576 280h1v2h-1zM577 280h1v2h-1zM578 280h1v2h-1zM579 280h1v2h-1zM580 279h1v2h-1zM581 279h1v2h-1zM582 278h1v2h-1zM583 278h1v2h-1zM584 277h1v2h-1zM585 277h1v2h-1zM586 277h1v2h-1zM587 276h1v2h-1zM588 276h1v2h-1zM589 276h1v2h-1zM590 276h1v2h-1zM591 275h1v2h-1zM592 275h1v2h-1zM593 275h1v2h-1zM594 275h1v2h-1zM595 275h1v2h-1zM596 274h1v2h-1zM597 274h1v2h-1zM598 274h1v2h-1zM599 274h1v2h-1zM600 273h1v2h-1zM601 273h1v2h-1zM602 273h1v2h-1zM603 273h1v2h-1zM604 272h1v2h-1zM605 272h1v2h-1zM606 271h1v2h-1zM607 271h1v2h-1zM608 270h1v2h-1zM609 269h1v2h-1zM610 269h1v2h-1zM611 269h1v2h-1zM612 269h1v2h-1zM613 269h1v2h-1zM614 268h1v2h-1zM615 268h1v2h-1zM616 268h1v2h-1zM617 268h1v2h-1zM618 267h1v2h-1zM619 267h1v2h-1zM620 267h1v2h-1zM621 267h1v2h-1zM622 267h1v2h-1zM623 266h1v2h-1zM624 266h1v2h-1zM625 266h1v2h-1zM626 266h1v2h-1zM627 265h1v2h-1zM628 265h1v2h-1zM629 265h1v2h-1zM630 265h1v2h-1zM631 265h1v2h-1zM632 264h1v2h-1zM633 264h1v2h-1zM634 263h1v2h-1zM635 263h1v2h-1zM636 262h1v2h-1zM637 262h1v2h-1zM638 261h1v2h-1zM639 261h1v2h-1zM640 261h1v2h-1zM641 261h1v2h-1zM642 261h1v2h-1zM643 260h1v2h-1zM644 260h1v2h-1zM645 260h1v2h-1zM646 260h1v2h-1zM647 259h1v2h-1zM648 259h1v2h-1zM649 259h1v2h-1zM650 258h1v2h-1zM651 258h1v2h-1zM652 258h1v2h-1zM653 257h1v2h-1zM654 257h1v2h-1zM655 257h1v2h-1zM656 256h1v2h-1zM657 256h1v2h-1zM658 255h1v2h-1zM659 255h1v2h-1zM660 255h1v2h-1zM661 254h1v2h-1zM662 254h1v2h-1zM663 254h1v2h-1zM664 253h1v2h-1zM665 253h1v2h-1zM666 253h1v2h-1zM667 253h1v2h-1zM668 252h1v2h-1zM669 252h1v2h-1zM670 252h1v2h-1zM671 251h1v2h-1zM672 251h1v2h-1zM673 251h1v2h-1zM674 250h1v2h-1zM675 250h1v2h-1zM676 250h1v2h-1zM677 250h1v2h-1zM678 249h1v2h-1zM679 249h1v2h-1zM680 249h1v2h-1zM681 248h1v2h-1zM682 248h1v2h-1zM683 248h1v2h-1zM684 248h1v2h-1zM685 247h1v2h-1zM686 247h1v2h-1zM687 247h1v2h-1zM688 246h1v2h-1zM689 246h1v2h-1zM690 245h1v2h-1zM691 245h1v2h-1zM692 244h1v2h-1zM693 244h1v2h-1zM694 243h1v2h-1zM695 243h1v2h-1zM696 242h1v2h-1zM697 242h1v2h-1zM698 241h1v2h-1zM699 241h1v2h-1zM700 240h1v2h-1zM701 240h1v2h-1zM702 239h1v2h-1zM703 239h1v2h-1zM704 238h1v2h-1zM705 238h1v2h-1zM706 237h1v2h-1zM707 237h1v2h-1zM708 236h1v2h-1zM709 236h1v2h-1zM710 235h1v2h-1zM711 235h1v2h-1zM712 235h1v2h-1zM713 234h1v2h-1zM714 234h1v2h-1zM715 234h1v2h-1zM716 234h1v2h-1zM717 233h1v2h-1zM718 233h1v2h-1zM719 233h1v2h-1zM720 232h1v2h-1zM721 232h1v2h-1zM722 231h1v2h-1zM723 231h1v2h-1zM724 231h1v2h-1zM725 230h1v2h-1zM726 230h1v2h-1zM727 229h1v2h-1zM728 229h1v2h-1zM729 228h1v2h-1zM730 228h1v2h-1zM731 228h1v2h-1zM732 227h1v2h-1zM733 227h1v2h-1zM734 226h1v2h-1zM735 226h1v2h-1zM736 225h1v2h-1zM737 225h1v2h-1zM738 225h1v2h-1zM739 224h1v2h-1zM740 224h1v2h-1zM741 223h1v2h-1zM742 223h1v2h-1zM743 223h1v2h-1zM744 222h1v2h-1zM745 222h1v2h-1zM746 222h1v2h-1zM747 221h1v2h-1zM748 221h1v2h-1zM749 220h1v2h-1zM750 220h1v2h-1zM751 220h1v2h-1zM752 219h1v2h-1zM753 219h1v2h-1zM754 219h1v2h-1zM755 219h1v2h-1zM756 218h1v2h-1zM757 218h1v2h-1zM758 218h1v2h-1zM759 217h1v2h-1zM760 217h1v2h-1zM761 217h1v2h-1zM762 216h1v2h-1zM763 216h1v2h-1zM764 216h1v2h-1zM765 216h1v2h-1zM766 215h1v2h-1zM767 215h1v2h-1zM768 215h1v2h-1zM769 214h1v2h-1zM770 214h1v2h-1zM771 214h1v2h-1zM772 214h1v2h-1zM773 213h1v2h-1zM774 213h1v2h-1zM775 213h1v2h-1zM776 213h1v2h-1zM777 213h1v2h-1zM778 213h1v2h-1zM779 213h1v2h-1zM780 213h1v2h-1zM781 212h1v2h-1zM782 212h1v2h-1zM783 212h1v2h-1zM784 212h1v2h-1zM785 212h1v2h-1zM786 212h1v2h-1zM787 212h1v2h-1z" fill="#ff0000"/>
<path d="M3 450h1v1h-1zM4 450h1v1h-1zM5 449h1v1h-1zM6 448h1v1h-1zM7 447h1v1h-1zM8 446h1v1h-1zM9 445h1v1h-1zM10 444h1v1h-1zM11 444h1v1h-1zM12 444h1v1h-1zM13 445h1v1h-1zM14 446h1v1h-1zM15 447h1v1h-1zM16 447h1v1h-1zM17 447h1v1h-1zM18 447h1v1h-1zM19 448h1v1h-1zM20 448h1v1h-1zM21 449h1v1h-1zM22 449h1v1h-1zM23 450h1v1h-1zM24 450h1v1h-1zM25 451h1v1h-1zM26 451h1v1h-1zM27 451h1v1h-1zM28 450h1v1h-1zM29 449h1v1h-1zM30 448h1v1h-1zM31 447h1v1h-1zM32 446h1v1h-1zM33 445h1v1h-1zM34 444h1v1h-1zM35 444h1v1h-1zM36 444h1v1h-1zM37 444h1v1h-1zM38 444h1v1h-1zM39 445h1v1h-1zM40 444h1v1h-1zM41 444h1v1h-1zM42 444h1v1h-1zM43 444h1v1h-1zM44 444h1v1h-1zM45 444h1v1h-1zM46 443h1v1h-1zM47 443h1v1h-1zM48 443h1v1h-1zM49 442h1v1h-1zM50 442h1v1h-1zM51 441h1v1h-1zM52 440h1v1h-1zM53 440h1v1h-1zM54 439h1v1h-1zM55 439h1v1h-1zM56 439h1v1h-1zM57 439h1v1h-1zM58 438h1v1h-1zM59 438h1v1h-1zM60 438h1v1h-1zM61 439h1v1h-1zM62 439h1v1h-1zM63 439h1v1h-1zM64 439h1v1h-1zM65 440h1v1h-1zM66 441h1v1h-1zM67 442h1v1h-1zM68 442h1v1h-1zM69 442h1v1h-1zM70 442h1v1h-1zM71 442h1v1h-1zM72 442h1v1h-1zM73 441h1v1h-1zM74 441h1v1h-1zM75 440h1v1h-1zM76 441h1v1h-1zM77 441h1v1h-1zM78 442h1v1h-1zM79 442h1v1h-1zM80 442h1v1h-1zM81 442h1v1h-1zM82 442h1v1h-1zM83 441h1v1h-1zM84 441h1v1h-1zM85 440h1v1h-1zM86 439h1v1h-1zM87 438h1v1h-1zM88 437h1v1h-1zM89 436h1v1h-1zM90 435h1v1h-1zM91 435h1v1h-1zM92 434h1v1h-1zM93 434h1v1h-1zM94 434h1v1h-1zM95 434h1v1h-1zM96 434h1v1h-1zM97 434h1v1h-1zM98 434h1v1h-1zM99 434h1v1h-1zM100 434h1v1h-1zM101 433h1v1h-1zM102 433h1v1h-1zM103 432h1v1h-1zM104 432h1v1h-1zM105 431h1v1h-1zM106 430h1v1h-1zM107 430h1v1h-1zM108 429h1v1h-1zM109 429h1v1h-1zM110 428h1v1h-1zM111 427h1v1h-1zM112 427h1v1h-1zM113 427h1v1h-1zM114 427h1v1h-1zM115 426h1v1h-1zM116 426h1v1h-1zM117 425h1v1h-1zM118 425h1v1h-1zM119 424h1v1h-1zM120 424h1v1h-1zM121 424h1v1h-1zM122 424h1v1h-1zM123 424h1v1h-1zM124 425h1v1h-1zM125 425h1v1h-1zM126 425h1v1h-1zM127 425h1v1h-1zM128 425h1v1h-1zM129 426h1v1h-1zM130 426h1v1h-1zM131 426h1v1h-1zM132 426h1v1h-1zM133 426h1v1h-1zM134 425h1v1h-1zM135 425h1v1h-1zM136 425h1v1h-1zM137 425h1v1h-1zM138 425h1v1h-1zM139 424h1v2h-1zM140 426h1v2h-1zM141 428h1v2h-1zM142 430h1v2h-1zM143 432h1v1h-1zM144 432h1v1h-1zM145 432h1v1h-1zM146 432h1v1h-1zM147 431h1v1h-1zM148 432h1v1h-1zM149 432h1v1h-1zM150 432h1v1h-1zM151 432h1v1h-1zM152 433h1v1h-1zM153 433h1v1h-1zM154 434h1v1h-1zM155 434h1v1h-1zM156 434h1v1h-1zM157 434h1v1h-1zM158 434h1v1h-1zM159 433h1v1h-1zM160 433h1v1h-1zM161 433h1v1h-1zM162 433h1v1h-1zM163 432h1v1h-1zM164 432h1v1h-1zM165 432h1v1h-1zM166 432h1v1h-1zM167 432h1v1h-1zM168 431h1v1h-1zM169 430h1v1h-1zM170 429h1v1h-1zM171 428h1v2h-1zM172 430h1v2h-1zM173 432h1v2h-1zM174 434h1v2h-1zM175 436h1v1h-1zM176 435h1v1h-1zM177 435h1v1h-1zM178 434h1v1h-1zM179 433h1v2h-1zM180 435h1v2h-1zM181 437h1v1h-1zM182 438h1v2h-1zM183 440h1v1h-1zM184 440h1v1h-1zM185 440h1v1h-1zM186 441h1v1h-1zM187 441h1v1h-1zM188 441h1v1h-1zM189 440h1v1h-1zM190 440h1v1h-1zM191 439h1v1h-1zM192 438h1v1h-1zM193 438h1v1h-1zM194 437h1v1h-1zM195 437h1v1h-1zM196 437h1v1h-1zM197 437h1v1h-1zM198 436h1v1h-1zM199 436h1v1h-1zM200 435h1v1h-1zM201 435h1v1h-1zM202 434h1v1h-1zM203 433h1v1h-1zM204 433h1v1h-1zM205 433h1v1h-1zM206 432h1v1h-1zM207 432h1v1h-1zM208 432h1v1h-1zM209 432h1v1h-1zM210 432h1v1h-1zM211 431h1v1h-1zM212 432h1v1h-1zM213 432h1v1h-1zM214 433h1v1h-1zM215 433h1v1h-1zM216 434h1v1h-1zM217 435h1v1h-1zM218 436h1v1h-1zM219 437h1v1h-1zM220 437h1v1h-1zM221 438h1v1h-1zM222 438h1v1h-1zM223 438h1v1h-1zM224 439h1v2h-1zM225 441h1v1h-1zM226 442h1v2h-1zM227 444h1v2h-1zM228 446h1v1h-1zM229 447h1v2h-1zM230 449h1v1h-1zM231 450h1v1h-1zM232 450h1v1h-1zM233 450h1v1h-1zM234 450h1v1h-1zM235 450h1v1h-1zM236 451h1v1h-1zM237 452h1v2h-1zM238 454h1v1h-1zM239 455h1v1h-1zM240 455h1v1h-1zM241 455h1v1h-1zM242 455h1v1h-1zM243 455h1v1h-1zM244 455h1v1h-1zM245 455h1v1h-1zM246 454h1v1h-1zM247 454h1v1h-1zM248 453h1v1h-1zM249 453h1v1h-1zM250 452h1v1h-1zM251 452h1v1h-1zM252 451h1v1h-1zM253 450h1v1h-1zM254 449h1v1h-1zM255 448h1v1h-1zM256 448h1v1h-1zM257 448h1v1h-1zM258 447h1v1h-1zM259 447h1v1h-1zM260 448h1v1h-1zM261 448h1v1h-1zM262 449h1v1h-1zM263 449h1v1h-1zM264 450h1v1h-1zM265 451h1v1h-1zM266 452h1v1h-1zM267 452h1v1h-1zM268 453h1v1h-1zM269 454h1v1h-1zM270 455h1v1h-1zM271 455h1v1h-1zM272 455h1v1h-1zM273 455h1v1h-1zM274 455h1v1h-1zM275 455h1v1h-1zM276 455h1v1h-1zM277 455h1v1h-1zM278 455h1v1h-1zM279 454h1v1h-1zM280 454h1v1h-1zM281 454h1v1h-1zM282 454h1v1h-1zM283 454h1v1h-1zM284 453h1v1h-1zM285 452h1v1h-1zM286 451h1v1h-1zM287 450h1v1h-1zM288 449h1v1h-1zM289 449h1v1h-1zM290 448h1v1h-1zM291 448h1v1h-1zM292 447h1v1h-1zM293 447h1v1h-1zM294 446h1v1h-1zM295 446h1v1h-1zM296 446h1v1h-1zM297 446h1v1h-1zM298 445h1v1h-1zM299 445h1v1h-1zM300 445h1v1h-1zM301 445h1v1h-1zM302 444h1v1h-1zM303 444h1v1h-1zM304 444h1v1h-1zM305 443h1v1h-1zM306 443h1v1h-1zM307 442h1v2h-1zM308 444h1v1h-1zM309 445h1v1h-1zM310 446h1v1h-1zM311 447h1v1h-1zM312 447h1v1h-1zM313 446h1v1h-1zM314 446h1v1h-1zM315 445h1v1h-1zM316 445h1v1h-1zM317 445h1v1h-1zM318 445h1v1h-1zM319 444h1v1h-1zM320 443h1v1h-1zM321 442h1v1h-1zM322 441h1v1h-1zM323 440h1v1h-1zM324 440h1v1h-1zM325 440h1v1h-1zM326 440h1v1h-1zM327 439h1v2h-1zM328 441h1v1h-1zM329 442h1v2h-1zM330 444h1v1h-1zM331 445h1v1h-1zM332 445h1v1h-1zM333 444h1v1h-1zM334 444h1v1h-1zM335 443h1v1h-1zM336 443h1v1h-1zM337 444h1v1h-1zM338 444h1v1h-1zM339 444h1v1h-1zM340 445h1v1h-1zM341 445h1v1h-1zM342 446h1v1h-1zM343 446h1v1h-1zM344 446h1v1h-1zM345 446h1v1h-1zM346 446h1v1h-1zM347 446h1v1h-1zM348 445h1v1h-1zM349 445h1v1h-1zM350 445h1v1h-1zM351 444h1v1h-1zM352 442h1v2h-1zM353 440h1v2h-1zM354 439h1v1h-1zM355 438h1v1h-1zM356 438h1v1h-1zM357 439h1v1h-1zM358 439h1v1h-1zM359 440h1v1h-1zM360 440h1v1h-1zM361 441h1v1h-1zM362 441h1v1h-1zM363 442h1v1h-1zM364 442h1v1h-1zM365 443h1v1h-1zM366 443h1v1h-1zM367 443h1v1h-1zM368 443h1v1h-1zM369 443h1v1h-1zM370 443h1v1h-1zM371 442h1v1h-1zM372 443h1v1h-1zM373 443h1v1h-1zM374 444h1v1h-1zM375 444h1v1h-1zM376 445h1v1h-1zM377 446h1v1h-1zM378 447h1v1h-1zM379 447h1v1h-1zM380 447h1v1h-1zM381 447h1v1h-1zM382 446h1v1h-1zM383 446h1v1h-1zM384 446h1v1h-1zM385 447h1v1h-1zM386 447h1v1h-1zM387 447h1v1h-1zM388 445h1v2h-1zM389 444h1v1h-1zM390 443h1v1h-1zM391 442h1v1h-1zM392 442h1v1h-1zM393 443h1v1h-1zM394 443h1v1h-1zM395 444h1v1h-1zM396 442h1v2h-1zM397 441h1v1h-1zM398 439h1v2h-1zM399 438h1v1h-1zM400 438h1v1h-1zM401 438h1v1h-1zM402 438h1v1h-1zM403 438h1v1h-1zM404 438h1v1h-1zM405 438h1v1h-1zM406 438h1v1h-1zM407 438h1v1h-1zM408 437h1v1h-1zM409 436h1v1h-1zM410 435h1v1h-1zM411 434h1v1h-1zM412 435h1v1h-1zM413 436h1v1h-1zM414 436h1v1h-1zM415 437h1v1h-1zM416 438h1v2h-1zM417 440h1v1h-1zM418 441h1v1h-1zM419 442h1v1h-1zM420 441h1v1h-1zM421 441h1v1h-1zM422 440h1v1h-1zM423 439h1v1h-1zM424 439h1v1h-1zM425 439h1v1h-1zM426 439h1v1h-1zM427 439h1v1h-1zM428 439h1v1h-1zM429 438h1v1h-1zM430 438h1v1h-1zM431 437h1v1h-1zM432 437h1v1h-1zM433 437h1v1h-1zM434 437h1v1h-1zM435 437h1v1h-1zM436 437h1v1h-1zM437 437h1v1h-1zM438 437h1v1h-1zM439 437h1v1h-1zM440 437h1v1h-1zM441 437h1v1h-1zM442 436h1v1h-1zM443 436h1v1h-1zM444 436h1v1h-1zM445 436h1v1h-1zM446 435h1v1h-1zM447 435h1v1h-1zM448 435h1v1h-1zM449 435h1v1h-1zM450 434h1v1h-1zM451 434h1v1h-1zM452 434h1v1h-1zM453 434h1v1h-1zM454 434h1v1h-1zM455 433h1v1h-1zM456 434h1v1h-1zM457 434h1v1h-1zM458 434h1v1h-1zM459 434h1v1h-1zM460 435h1v1h-1zM461 436h1v1h-1zM462 437h1v1h-1zM463 437h1v1h-1zM464 437h1v1h-1zM465 437h1v1h-1zM466 437h1v1h-1zM467 437h1v1h-1zM468 436h1v1h-1zM469 436h1v1h-1zM470 435h1v1h-1zM471 434h1v1h-1zM472 434h1v1h-1zM473 435h1v1h-1zM474 435h1v1h-1zM475 436h1v1h-1zM476 435h1v1h-1zM477 435h1v1h-1zM478 434h1v1h-1zM479 433h1v1h-1zM480 434h1v1h-1zM481 434h1v1h-1zM482 434h1v1h-1zM483 434h1v1h-1zM484 435h1v1h-1zM485 436h1v1h-1zM486 437h1v1h-1zM487 438h1v1h-1zM488 439h1v1h-1zM489 439h1v1h-1zM490 440h1v1h-1zM491 440h1v1h-1zM492 440h1v1h-1zM493 439h1v1h-1zM494 439h1v1h-1zM495 438h1v2h-1zM496 440h1v1h-1zM497 441h1v2h-1zM498 443h1v1h-1zM499 444h1v1h-1zM500 445h1v1h-1zM501 446h1v1h-1zM502 447h1v1h-1zM503 447h1v1h-1zM504 446h1v1h-1zM505 445h1v1h-1zM506 443h1v2h-1zM507 442h1v1h-1zM508 441h1v1h-1zM509 440h1v1h-1zM510 439h1v1h-1zM511 438h1v1h-1zM512 437h1v1h-1zM513 437h1v1h-1zM514 436h1v1h-1zM515 435h1v1h-1zM516 435h1v1h-1zM517 435h1v1h-1zM518 434h1v1h-1zM519 434h1v1h-1zM520 434h1v1h-1zM521 435h1v1h-1zM522 435h1v1h-1zM523 436h1v1h-1zM524 437h1v1h-1zM525 438h1v1h-1zM526 439h1v1h-1zM527 440h1v1h-1zM528 441h1v1h-1zM529 442h1v1h-1zM530 443h1v1h-1zM531 444h1v1h-1zM532 443h1v1h-1zM533 442h1v1h-1zM534 441h1v1h-1zM535 440h1v1h-1zM536 440h1v1h-1zM537 439h1v1h-1zM538 439h1v1h-1zM539 438h1v1h-1zM540 439h1v1h-1zM541 440h1v1h-1zM542 441h1v1h-1zM543 442h1v1h-1zM544 442h1v1h-1zM545 441h1v1h-1zM546 441h1v1h-1zM547 440h1v1h-1zM548 439h1v1h-1zM549 439h1v1h-1zM550 438h1v1h-1zM551 437h1v1h-1zM552 437h1v1h-1zM553 436h1v1h-1zM554 436h1v1h-1zM555 435h1v1h-1zM556 436h1v1h-1zM557 437h1v1h-1zM558 438h1v1h-1zM559 439h1v1h-1zM560 439h1v1h-1zM561 439h1v1h-1zM562 439h1v1h-1zM563 438h1v1h-1zM564 438h1v1h-1zM565 438h1v1h-1zM566 438h1v1h-1zM567 438h1v1h-1zM568 439h1v1h-1zM569 440h1v1h-1zM570 440h1v1h-1zM571 441h1v1h-1zM572 441h1v1h-1zM573 441h1v1h-1zM574 441h1v1h-1zM575 440h1v1h-1zM576 441h1v1h-1zM577 442h1v1h-1zM578 443h1v1h-1zM579 443h1v1h-1zM580 442h1v1h-1zM581 441h1v1h-1zM582 440h1v1h-1zM583 439h1v1h-1zM584 439h1v1h-1zM585 439h1v1h-1zM586 439h1v1h-1zM587 439h1v1h-1zM588 439h1v1h-1zM589 438h1v1h-1zM590 438h1v1h-1zM591 437h1v2h-1zM592 439h1v1h-1zM593 440h1v1h-1zM594 441h1v1h-1zM595 442h1v1h-1zM596 442h1v1h-1zM597 442h1v1h-1zM598 442h1v1h-1zM599 442h1v1h-1zM600 442h1v1h-1zM601 441h1v1h-1zM602 441h1v1h-1zM603 440h1v1h-1zM604 440h1v1h-1zM605 440h1v1h-1zM606 440h1v1h-1zM607 439h1v1h-1zM608 439h1v1h-1zM609 439h1v1h-1zM610 438h1v1h-1zM611 438h1v1h-1zM612 438h1v1h-1zM613 439h1v1h-1zM614 439h1v1h-1zM615 439h1v1h-1zM616 439h1v1h-1zM617 439h1v1h-1zM618 439h1v1h-1zM619 439h1v1h-1zM620 439h1v1h-1zM621 438h1v1h-1zM622 438h1v1h-1zM623 438h1v1h-1zM624 438h1v1h-1zM625 439h1v1h-1zM626 439h1v1h-1zM627 440h1v1h-1zM628 440h1v1h-1zM629 440h1v1h-1zM630 440h1v1h-1zM631 439h1v1h-1zM632 439h1v1h-1zM633 439h1v1h-1zM634 439h1v1h-1zM635 439h1v1h-1zM636 440h1v1h-1zM637 441h1v1h-1zM638 441h1v1h-1zM639 442h1v1h-1zM640 442h1v1h-1zM641 442h1v1h-1zM642 442h1v1h-1zM643 442h1v1h-1zM644 443h1v1h-1zM645 443h1v1h-1zM646 443h1v1h-1zM647 443h1v1h-1zM648 443h1v1h-1zM649 442h1v1h-1zM650 442h1v1h-1zM651 441h1v1h-1zM652 440h1v1h-1zM653 440h1v1h-1zM654 439h1v1h-1zM655 438h1v1h-1zM656 438h1v1h-1zM657 438h1v1h-1zM658 438h1v1h-1zM659 438h1v1h-1zM660 438h1v1h-1zM661 437h1v1h-1zM662 437h1v1h-1zM663 436h1v1h-1zM664 436h1v1h-1zM665 435h1v1h-1zM666 435h1v1h-1zM667 434h1v1h-1zM668 435h1v1h-1zM669 435h1v1h-1zM670 436h1v1h-1zM671 436h1v1h-1zM672 436h1v1h-1zM673 435h1v1h-1zM674 435h1v1h-1zM675 434h1v1h-1zM676 434h1v1h-1zM677 433h1v1h-1zM678 433h1v1h-1zM679 432h1v1h-1zM680 432h1v1h-1zM681 432h1v1h-1zM682 432h1v1h-1zM683 432h1v1h-1zM684 433h1v1h-1zM685 434h1v1h-1zM686 435h1v1h-1zM687 436h1v1h-1zM688 435h1v1h-1zM689 434h1v1h-1zM690 433h1v1h-1zM691 432h1v1h-1zM692 431h1v1h-1zM693 431h1v1h-1zM694 430h1v1h-1zM695 430h1v1h-1zM696 430h1v1h-1zM697 430h1v1h-1zM698 429h1v1h-1zM699 429h1v1h-1zM700 429h1v1h-1zM701 428h1v1h-1zM702 428h1v1h-1zM703 427h1v1h-1zM704 427h1v1h-1zM705 427h1v1h-1zM706 427h1v1h-1zM707 426h1v3h-1zM708 429h1v2h-1zM709 431h1v3h-1zM710 434h1v2h-1zM711 436h1v1h-1zM712 437h1v1h-1zM713 438h1v1h-1zM714 439h1v1h-1zM715 440h1v1h-1zM716 440h1v1h-1zM717 441h1v1h-1zM718 441h1v1h-1zM719 441h1v1h-1zM720 441h1v1h-1zM721 441h1v1h-1zM722 440h1v1h-1zM723 440h1v1h-1zM724 440h1v1h-1zM725 440h1v1h-1zM726 440h1v1h-1zM727 440h1v1h-1zM728 441h1v1h-1zM729 441h1v1h-1zM730 442h1v1h-1zM731 442h1v1h-1zM732 443h1v1h-1zM733 444h1v1h-1zM734 445h1v1h-1zM735 446h1v1h-1zM736 446h1v1h-1zM737 447h1v1h-1zM738 447h1v1h-1zM739 447h1v1h-1zM740 446h1v1h-1zM741 446h1v1h-1zM742 445h1v1h-1zM743 444h1v1h-1zM744 443h1v1h-1zM745 443h1v1h-1zM746 442h1v1h-1zM747 441h1v1h-1zM748 441h1v1h-1zM749 440h1v1h-1zM750 439h1v1h-1zM751 438h1v1h-1zM752 439h1v1h-1zM753 440h1v1h-1zM754 441h1v1h-1zM755 442h1v1h-1zM756 443h1v1h-1zM757 443h1v1h-1zM758 443h1v1h-1zM759 443h1v1h-1zM760 444h1v1h-1zM761 444h1v1h-1zM762 444h1v1h-1zM763 444h1v1h-1zM764 444h1v1h-1zM765 443h1v1h-1zM766 442h1v1h-1zM767 441h1v1h-1zM768 442h1v1h-1zM769 442h1v1h-1zM770 443h1v1h-1zM771 443h1v1h-1zM772 443h1v1h-1zM773 444h1v1h-1zM774 444h1v1h-1zM775 445h1v1h-1zM776 445h1v1h-1zM777 446h1v1h-1zM778 446h1v1h-1zM779 446h1v2h-1zM780 448h1v1h-1zM781 449h1v2h-1zM782 451h1v1h-1zM783 452h1v1h-1zM784 452h1v1h-1zM785 453h1v1h-1zM786 453h1v1h-1zM787 454h1v1h-1z" fill="#1e90ff"/>
<rect x="37" y="33" width="120" height="120" fill="#ee1418"/>
<text x="54" y="96" class="fx" textLength="86" lengthAdjust="spacingAndGlyphs">FxPro</text>
<text x="56" y="112" class="tl" textLength="83" lengthAdjust="spacingAndGlyphs">Trade Like a Pro</text>
<text x="349" y="51" class="tt" textLength="105" lengthAdjust="spacingAndGlyphs">GBPUSD</text>
<text x="455" y="51" class="tt">,</text>
<text x="470" y="51" class="tt" textLength="60" lengthAdjust="spacingAndGlyphs">daily</text>
<path d="M2 2H815V408H2z M3 3V407H814V3z M2 409H815V480H2z M3 410V479H814V410z" fill="#000" fill-rule="evenodd"/>
<path d="M815 8h2v1h-2zM815 41h2v1h-2zM815 74h2v1h-2zM815 107h2v1h-2zM815 140h2v1h-2zM815 173h2v1h-2zM815 206h2v1h-2zM815 239h2v1h-2zM815 272h2v1h-2zM815 305h2v1h-2zM815 338h2v1h-2zM815 371h2v1h-2zM815 404h2v1h-2zM3 480h1v2h-1zM67 480h1v2h-1zM131 480h1v2h-1zM195 480h1v2h-1zM259 480h1v2h-1zM323 480h1v2h-1zM387 480h1v2h-1zM451 480h1v2h-1zM515 480h1v2h-1zM579 480h1v2h-1zM643 480h1v2h-1zM707 480h1v2h-1zM771 480h1v2h-1zM815 411h2v1h-2zM815 478h2v1h-2z" fill="#000"/>
<text x="820" y="12" class="ax" textLength="32.5" lengthAdjust="spacingAndGlyphs">1.43150</text>
<text x="820" y="45" class="ax" textLength="32.5" lengthAdjust="spacingAndGlyphs">1.41400</text>
<text x="820" y="78" class="ax" textLength="32.5" lengthAdjust="spacingAndGlyphs">1.39650</text>
<text x="820" y="111" class="ax" textLength="32.5" lengthAdjust="spacingAndGlyphs">1.37900</text>
<text x="820" y="144" class="ax" textLength="32.5" lengthAdjust="spacingAndGlyphs">1.36150</text>
<text x="820" y="177" class="ax" textLength="32.5" lengthAdjust="spacingAndGlyphs">1.34400</text>
<text x="820" y="210" class="ax" textLength="32.5" lengthAdjust="spacingAndGlyphs">1.32650</text>
<text x="820" y="243" class="ax" textLength="32.5" lengthAdjust="spacingAndGlyphs">1.30900</text>
<text x="820" y="276" class="ax" textLength="32.5" lengthAdjust="spacingAndGlyphs">1.29150</text>
<text x="820" y="309" class="ax" textLength="32.5" lengthAdjust="spacingAndGlyphs">1.27400</text>
<text x="820" y="342" class="ax" textLength="32.5" lengthAdjust="spacingAndGlyphs">1.25650</text>
<text x="820" y="375" class="ax" textLength="32.5" lengthAdjust="spacingAndGlyphs">1.23900</text>
<text x="820" y="408" class="ax" textLength="32.5" lengthAdjust="spacingAndGlyphs">1.22150</text>
<rect x="816" y="121" width="41" height="11" fill="#000"/>
<text x="820.5" y="130" class="ax" style="fill:#fff" textLength="32.5" lengthAdjust="spacingAndGlyphs">1.36900</text>
<text x="818.5" y="421" class="ax" textLength="13.5" lengthAdjust="spacingAndGlyphs">100</text>
<text x="816.5" y="428" class="ax" textLength="10" lengthAdjust="spacingAndGlyphs">80</text>
<text x="816.5" y="469" class="ax" textLength="10" lengthAdjust="spacingAndGlyphs">20</text>
<text x="816.5" y="476" class="ax" textLength="5" lengthAdjust="spacingAndGlyphs">0</text>
<text x="3" y="492" class="ax" textLength="49" lengthAdjust="spacingAndGlyphs">19 Jun 2020</text>
<text x="67" y="492" class="ax" textLength="46" lengthAdjust="spacingAndGlyphs">13 Jul 2020</text>
<text x="130" y="492" class="ax" textLength="48" lengthAdjust="spacingAndGlyphs">4 Aug 2020</text>
<text x="194" y="492" class="ax" textLength="53" lengthAdjust="spacingAndGlyphs">26 Aug 2020</text>
<text x="258" y="492" class="ax" textLength="51.5" lengthAdjust="spacingAndGlyphs">17 Sep 2020</text>
<text x="322" y="492" class="ax" textLength="46" lengthAdjust="spacingAndGlyphs">9 Oct 2020</text>
<text x="386" y="492" class="ax" textLength="48.5" lengthAdjust="spacingAndGlyphs">2 Nov 2020</text>
<text x="450" y="492" class="ax" textLength="54" lengthAdjust="spacingAndGlyphs">24 Nov 2020</text>
<text x="514" y="492" class="ax" textLength="51.5" lengthAdjust="spacingAndGlyphs">16 Dec 2020</text>
<text x="578" y="492" class="ax" textLength="49.5" lengthAdjust="spacingAndGlyphs">11 Jan 2021</text>
<text x="642" y="492" class="ax" textLength="46" lengthAdjust="spacingAndGlyphs">2 Feb 2021</text>
<text x="706" y="492" class="ax" textLength="51" lengthAdjust="spacingAndGlyphs">24 Feb 2021</text>
<text x="770.5" y="492" class="ax" textLength="50.5" lengthAdjust="spacingAndGlyphs">18 Mar 2021</text>
<path d="M6 9h7l-3.5 4z" fill="#000" shape-rendering="geometricPrecision"/>
<text x="18.5" y="14" class="ax" textLength="62" lengthAdjust="spacingAndGlyphs">GBPUSD,Daily</text>
<text x="88.5" y="14" class="ax" textLength="32.5" lengthAdjust="spacingAndGlyphs">1.37493</text>
<text x="124.5" y="14" class="ax" textLength="32.5" lengthAdjust="spacingAndGlyphs">1.37564</text>
<text x="160.5" y="14" class="ax" textLength="32.5" lengthAdjust="spacingAndGlyphs">1.36731</text>
<text x="196.5" y="14" class="ax" textLength="32.5" lengthAdjust="spacingAndGlyphs">1.36900</text>
<text x="7" y="422" class="ax" textLength="68" lengthAdjust="spacingAndGlyphs">RSI(14) 35.9883</text>
</svg>
</body></html>
